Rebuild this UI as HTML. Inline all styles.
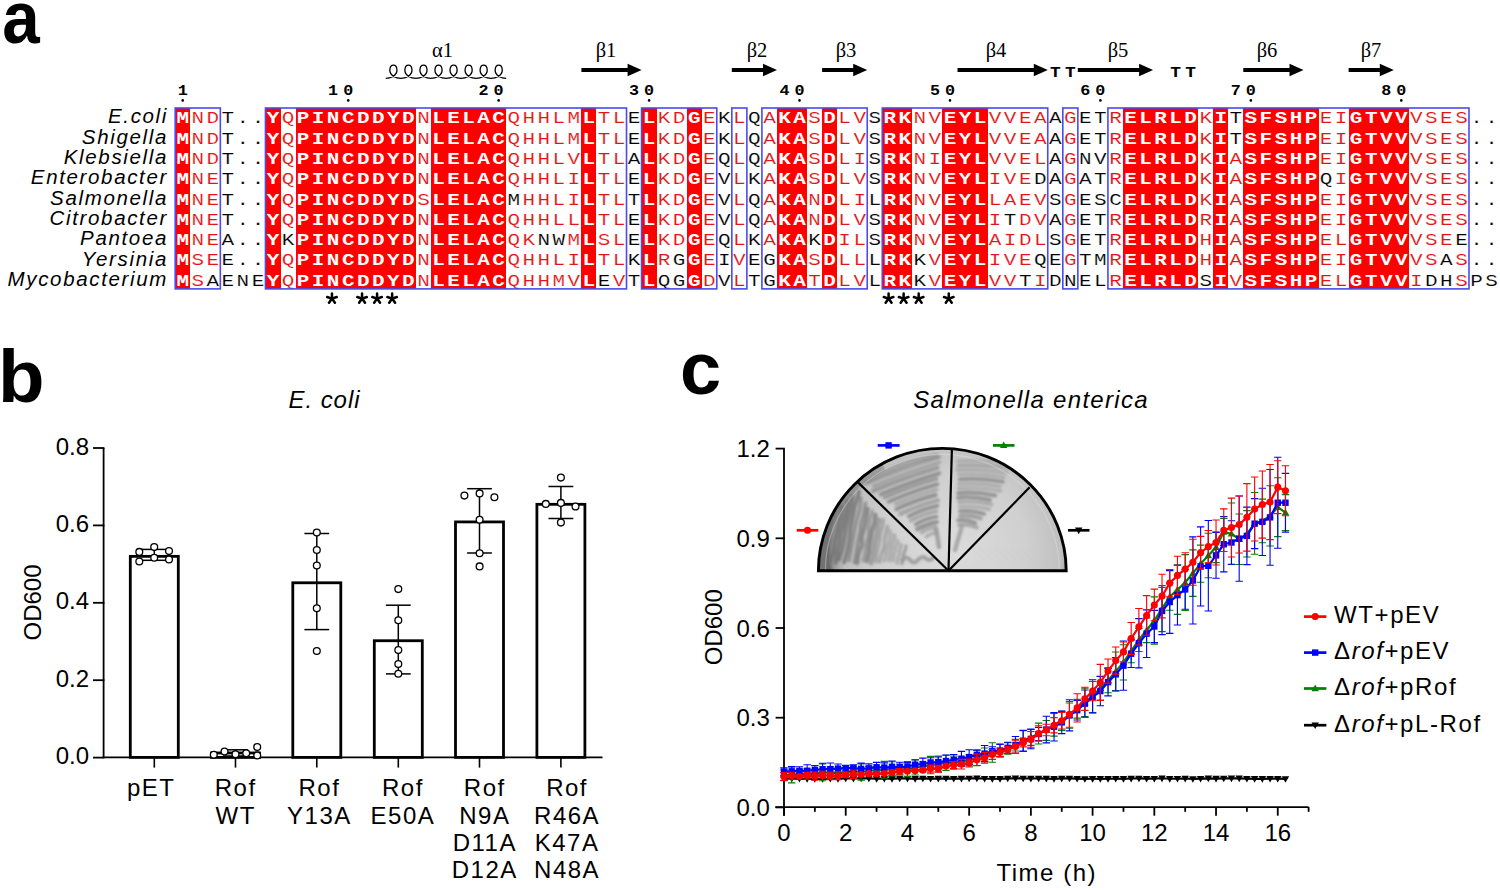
<!DOCTYPE html>
<html><head><meta charset="utf-8"><title>Figure</title><style>
html,body{margin:0;padding:0;background:#fff;overflow:hidden;width:1500px;height:890px;}
svg{display:block;}
text{font-family:"Liberation Sans",sans-serif;}
.aw{font-family:"Liberation Mono",monospace;font-weight:bold;font-size:17.2px;fill:#fff;}
.ar{font-family:"Liberation Mono",monospace;font-size:17.2px;fill:#e21414;stroke:#fff;stroke-width:0.15px;}
.ak{font-family:"Liberation Mono",monospace;font-size:17.2px;fill:#000;stroke:#fff;stroke-width:0.15px;}
.nm text{font-style:italic;font-size:20.5px;letter-spacing:1.65px;}
.num text{font-family:"Liberation Mono",monospace;font-weight:bold;font-size:15.5px;}
.ss text{font-family:"Liberation Serif",serif;font-size:20.5px;}
.tt text{font-family:"Liberation Mono",monospace;font-weight:bold;font-size:15.5px;}
.ast text{font-family:"Liberation Sans",sans-serif;font-weight:bold;font-size:26px;}
.pl{font-family:"Liberation Sans",sans-serif;font-weight:bold;font-size:74px;}
.ax text,.lab{font-size:24px;}
.it{font-style:italic;}
</style></head>
<body><svg width="1500" height="890" viewBox="0 0 1500 890">
<rect width="1500" height="890" fill="#fff"/>
<g fill="#ff0000" shape-rendering="crispEdges">
<rect x="175.20" y="108.00" width="15.04" height="180.90"/>
<rect x="265.46" y="108.00" width="15.04" height="180.90"/>
<rect x="295.55" y="108.00" width="120.35" height="180.90"/>
<rect x="430.95" y="108.00" width="75.22" height="180.90"/>
<rect x="581.39" y="108.00" width="15.04" height="180.90"/>
<rect x="641.56" y="108.00" width="15.04" height="180.90"/>
<rect x="686.70" y="108.00" width="15.04" height="180.90"/>
<rect x="776.96" y="108.00" width="30.09" height="180.90"/>
<rect x="822.09" y="108.00" width="15.04" height="180.90"/>
<rect x="882.27" y="108.00" width="30.09" height="180.90"/>
<rect x="942.44" y="108.00" width="45.13" height="180.90"/>
<rect x="1122.97" y="108.00" width="75.22" height="180.90"/>
<rect x="1213.24" y="108.00" width="15.04" height="180.90"/>
<rect x="1243.32" y="108.00" width="75.22" height="180.90"/>
<rect x="1348.63" y="108.00" width="60.18" height="180.90"/>
</g>
<g transform="scale(1.22,1)" text-anchor="middle">
<g transform="translate(0,123.30)">
<text class="aw" x="149.77 223.76 248.42 260.75 273.08 285.41 297.75 310.08 322.41 334.74 359.40 371.73 384.06 396.40 408.73 482.71 532.04 569.03 643.02 655.35 680.01 729.34 741.67 778.66 790.99 803.32 926.63 938.97 951.30 963.63 975.96 1000.62 1025.28 1037.61 1049.95 1062.28 1074.61 1111.60 1123.93 1136.26 1148.60">MYPINCDDYDLELACLLGKADRKEYLELRLDISFSHPGTVV</text>
<text class="ar" x="162.10 174.43 236.09 347.07 421.06 433.39 445.72 458.05 470.38 495.04 507.38 544.37 556.70 581.36 606.02 630.69 667.68 692.34 704.67 754.00 766.33 815.65 827.99 840.32 852.65 877.31 914.30 988.29 1086.94 1099.27 1160.93 1173.26 1185.59 1197.92">NDQNQHHLMTLKDELASLVNVVVEAGRKEIVSES</text>
<text class="ak" x="186.77 199.10 211.43 519.71 593.69 618.36 717.00 864.98 889.64 901.97 1012.95 1210.25 1222.58">T..EKQSAETT..</text>
</g>
<g transform="translate(0,143.61)">
<text class="aw" x="149.77 223.76 248.42 260.75 273.08 285.41 297.75 310.08 322.41 334.74 359.40 371.73 384.06 396.40 408.73 482.71 532.04 569.03 643.02 655.35 680.01 729.34 741.67 778.66 790.99 803.32 926.63 938.97 951.30 963.63 975.96 1000.62 1025.28 1037.61 1049.95 1062.28 1074.61 1111.60 1123.93 1136.26 1148.60">MYPINCDDYDLELACLLGKADRKEYLELRLDISFSHPGTVV</text>
<text class="ar" x="162.10 174.43 236.09 347.07 421.06 433.39 445.72 458.05 470.38 495.04 507.38 544.37 556.70 581.36 606.02 630.69 667.68 692.34 704.67 754.00 766.33 815.65 827.99 840.32 852.65 877.31 914.30 988.29 1086.94 1099.27 1160.93 1173.26 1185.59 1197.92">NDQNQHHLMTLKDELASLVNVVVEAGRKEIVSES</text>
<text class="ak" x="186.77 199.10 211.43 519.71 593.69 618.36 717.00 864.98 889.64 901.97 1012.95 1210.25 1222.58">T..EKQSAETT..</text>
</g>
<g transform="translate(0,163.92)">
<text class="aw" x="149.77 223.76 248.42 260.75 273.08 285.41 297.75 310.08 322.41 334.74 359.40 371.73 384.06 396.40 408.73 482.71 532.04 569.03 643.02 655.35 680.01 729.34 741.67 778.66 790.99 803.32 926.63 938.97 951.30 963.63 975.96 1000.62 1025.28 1037.61 1049.95 1062.28 1074.61 1111.60 1123.93 1136.26 1148.60">MYPINCDDYDLELACLLGKADRKEYLELRLDISFSHPGTVV</text>
<text class="ar" x="162.10 174.43 236.09 347.07 421.06 433.39 445.72 458.05 470.38 495.04 507.38 544.37 556.70 581.36 606.02 630.69 667.68 692.34 704.67 754.00 766.33 815.65 827.99 840.32 852.65 877.31 914.30 988.29 1012.95 1086.94 1099.27 1160.93 1173.26 1185.59 1197.92">NDQNQHHLVTLKDELASLINIVVELGRKAEIVSES</text>
<text class="ak" x="186.77 199.10 211.43 519.71 593.69 618.36 717.00 864.98 889.64 901.97 1210.25 1222.58">T..AQQSANV..</text>
</g>
<g transform="translate(0,184.23)">
<text class="aw" x="149.77 223.76 248.42 260.75 273.08 285.41 297.75 310.08 322.41 334.74 359.40 371.73 384.06 396.40 408.73 482.71 532.04 569.03 643.02 655.35 680.01 729.34 741.67 778.66 790.99 803.32 926.63 938.97 951.30 963.63 975.96 1000.62 1025.28 1037.61 1049.95 1062.28 1074.61 1111.60 1123.93 1136.26 1148.60">MYPINCDDYDLELACLLGKADRKEYLELRLDISFSHPGTVV</text>
<text class="ar" x="162.10 174.43 236.09 347.07 421.06 433.39 445.72 458.05 470.38 495.04 507.38 544.37 556.70 581.36 606.02 630.69 667.68 692.34 704.67 754.00 766.33 815.65 827.99 840.32 877.31 914.30 988.29 1012.95 1099.27 1160.93 1173.26 1185.59 1197.92">NEQNQHHLITLKDELASLVNVIVEGRKAIVSES</text>
<text class="ak" x="186.77 199.10 211.43 519.71 593.69 618.36 717.00 852.65 864.98 889.64 901.97 1086.94 1210.25 1222.58">T..EVKSDAATQ..</text>
</g>
<g transform="translate(0,204.54)">
<text class="aw" x="149.77 223.76 248.42 260.75 273.08 285.41 297.75 310.08 322.41 334.74 359.40 371.73 384.06 396.40 408.73 482.71 532.04 569.03 643.02 655.35 680.01 729.34 741.67 778.66 790.99 803.32 926.63 938.97 951.30 963.63 975.96 1000.62 1025.28 1037.61 1049.95 1062.28 1074.61 1111.60 1123.93 1136.26 1148.60">MYPINCDDYDLELACLLGKADRKEYLELRLDISFSHPGTVV</text>
<text class="ar" x="162.10 174.43 236.09 347.07 433.39 445.72 458.05 470.38 495.04 507.38 544.37 556.70 581.36 606.02 630.69 667.68 692.34 704.67 754.00 766.33 815.65 827.99 840.32 852.65 877.31 988.29 1012.95 1086.94 1099.27 1160.93 1173.26 1185.59 1197.92">NEQSHHLITLKDELANLINVLAEVGKAEIVSES</text>
<text class="ak" x="186.77 199.10 211.43 421.06 519.71 593.69 618.36 717.00 864.98 889.64 901.97 914.30 1210.25 1222.58">T..MTVQLSESC..</text>
</g>
<g transform="translate(0,224.85)">
<text class="aw" x="149.77 223.76 248.42 260.75 273.08 285.41 297.75 310.08 322.41 334.74 359.40 371.73 384.06 396.40 408.73 482.71 532.04 569.03 643.02 655.35 680.01 729.34 741.67 778.66 790.99 803.32 926.63 938.97 951.30 963.63 975.96 1000.62 1025.28 1037.61 1049.95 1062.28 1074.61 1111.60 1123.93 1136.26 1148.60">MYPINCDDYDLELACLLGKADRKEYLELRLDISFSHPGTVV</text>
<text class="ar" x="162.10 174.43 236.09 347.07 421.06 433.39 445.72 458.05 470.38 495.04 507.38 544.37 556.70 581.36 606.02 630.69 667.68 692.34 704.67 754.00 766.33 815.65 840.32 852.65 877.31 914.30 988.29 1012.95 1086.94 1099.27 1160.93 1173.26 1185.59 1197.92">NEQNQHHLLTLKDELANLVNVIDVGRRAEIVSES</text>
<text class="ak" x="186.77 199.10 211.43 519.71 593.69 618.36 717.00 827.99 864.98 889.64 901.97 1210.25 1222.58">T..EVQSTAET..</text>
</g>
<g transform="translate(0,245.16)">
<text class="aw" x="149.77 223.76 248.42 260.75 273.08 285.41 297.75 310.08 322.41 334.74 359.40 371.73 384.06 396.40 408.73 482.71 532.04 569.03 643.02 655.35 680.01 729.34 741.67 778.66 790.99 803.32 926.63 938.97 951.30 963.63 975.96 1000.62 1025.28 1037.61 1049.95 1062.28 1074.61 1111.60 1123.93 1136.26 1148.60">MYPINCDDYDLELACLLGKADRKEYLELRLDISFSHPGTVV</text>
<text class="ar" x="162.10 174.43 347.07 421.06 433.39 470.38 495.04 507.38 544.37 556.70 581.36 606.02 630.69 692.34 704.67 754.00 766.33 815.65 827.99 840.32 852.65 877.31 914.30 988.29 1012.95 1086.94 1099.27 1160.93 1173.26 1185.59">NENQKMSLKDELAILNVAIDLGRHAELVSE</text>
<text class="ak" x="186.77 199.10 211.43 236.09 445.72 458.05 519.71 593.69 618.36 667.68 717.00 864.98 889.64 901.97 1197.92 1210.25 1222.58">A..KNWEQKKSSETE..</text>
</g>
<g transform="translate(0,265.47)">
<text class="aw" x="149.77 223.76 248.42 260.75 273.08 285.41 297.75 310.08 322.41 334.74 359.40 371.73 384.06 396.40 408.73 482.71 532.04 569.03 643.02 655.35 680.01 729.34 741.67 778.66 790.99 803.32 926.63 938.97 951.30 963.63 975.96 1000.62 1025.28 1037.61 1049.95 1062.28 1074.61 1111.60 1123.93 1136.26 1148.60">MYPINCDDYDLELACLLGKADRKEYLELRLDISFSHPGTVV</text>
<text class="ar" x="162.10 174.43 236.09 347.07 421.06 433.39 445.72 458.05 470.38 495.04 507.38 544.37 581.36 606.02 667.68 692.34 704.67 766.33 815.65 827.99 840.32 877.31 914.30 988.29 1012.95 1086.94 1099.27 1160.93 1173.26 1197.92">SEQNQHHLITLREVSLLVIVEGRHAEIVSS</text>
<text class="ak" x="186.77 199.10 211.43 519.71 556.70 593.69 618.36 630.69 717.00 754.00 852.65 864.98 889.64 901.97 1185.59 1210.25 1222.58">E..KGIEGLKQETMA..</text>
</g>
<g transform="translate(0,285.78)">
<text class="aw" x="149.77 223.76 248.42 260.75 273.08 285.41 297.75 310.08 322.41 334.74 359.40 371.73 384.06 396.40 408.73 482.71 532.04 569.03 643.02 655.35 680.01 729.34 741.67 778.66 790.99 803.32 926.63 938.97 951.30 963.63 975.96 1000.62 1025.28 1037.61 1049.95 1062.28 1074.61 1111.60 1123.93 1136.26 1148.60">MYPINCDDYDLELACLLGKADRKEYLELRLDISFSHPGTVV</text>
<text class="ar" x="162.10 236.09 347.07 421.06 433.39 445.72 458.05 470.38 507.38 581.36 606.02 667.68 692.34 704.67 766.33 815.65 827.99 852.65 914.30 1012.95 1086.94 1099.27 1160.93 1197.92">SQNQHHMVVDLTLVVVVIRVELIS</text>
<text class="ak" x="174.43 186.77 199.10 211.43 495.04 519.71 544.37 556.70 593.69 618.36 630.69 717.00 754.00 840.32 864.98 877.31 889.64 901.97 988.29 1173.26 1185.59 1210.25 1222.58">AENEETQGVTGLKTDNELSDHPS</text>
</g>
</g>
<g fill="none" stroke="#4a4af0" stroke-width="1.6">
<rect x="175.20" y="108.00" width="45.13" height="180.90"/>
<rect x="265.46" y="108.00" width="361.06" height="180.90"/>
<rect x="641.56" y="108.00" width="75.22" height="180.90"/>
<rect x="731.83" y="108.00" width="15.04" height="180.90"/>
<rect x="761.92" y="108.00" width="105.31" height="180.90"/>
<rect x="882.27" y="108.00" width="165.48" height="180.90"/>
<rect x="1062.80" y="108.00" width="15.04" height="180.90"/>
<rect x="1107.93" y="108.00" width="361.06" height="180.90"/>
</g>
<g class="nm" text-anchor="end">
<text x="168" y="123.40">E.coli</text>
<text x="168" y="143.71">Shigella</text>
<text x="168" y="164.02">Klebsiella</text>
<text x="168" y="184.33">Enterobacter</text>
<text x="168" y="204.64">Salmonella</text>
<text x="168" y="224.95">Citrobacter</text>
<text x="168" y="245.26">Pantoea</text>
<text x="168" y="265.57">Yersinia</text>
<text x="168" y="285.88">Mycobacterium</text>
</g>
<g class="num">
<text x="169.19" y="94.6" text-anchor="middle" transform="scale(1.08,1)">1</text>
<circle cx="182.72" cy="100.4" r="1.3" fill="#000"/>
<text x="322.41" y="94.6" text-anchor="middle" transform="scale(1.08,1)">0</text>
<text x="308.48" y="94.6" text-anchor="middle" transform="scale(1.08,1)">1</text>
<circle cx="348.21" cy="100.4" r="1.3" fill="#000"/>
<text x="461.71" y="94.6" text-anchor="middle" transform="scale(1.08,1)">0</text>
<text x="447.78" y="94.6" text-anchor="middle" transform="scale(1.08,1)">2</text>
<circle cx="498.65" cy="100.4" r="1.3" fill="#000"/>
<text x="601.01" y="94.6" text-anchor="middle" transform="scale(1.08,1)">0</text>
<text x="587.08" y="94.6" text-anchor="middle" transform="scale(1.08,1)">3</text>
<circle cx="649.09" cy="100.4" r="1.3" fill="#000"/>
<text x="740.30" y="94.6" text-anchor="middle" transform="scale(1.08,1)">0</text>
<text x="726.37" y="94.6" text-anchor="middle" transform="scale(1.08,1)">4</text>
<circle cx="799.53" cy="100.4" r="1.3" fill="#000"/>
<text x="879.60" y="94.6" text-anchor="middle" transform="scale(1.08,1)">0</text>
<text x="865.67" y="94.6" text-anchor="middle" transform="scale(1.08,1)">5</text>
<circle cx="949.97" cy="100.4" r="1.3" fill="#000"/>
<text x="1018.89" y="94.6" text-anchor="middle" transform="scale(1.08,1)">0</text>
<text x="1004.96" y="94.6" text-anchor="middle" transform="scale(1.08,1)">6</text>
<circle cx="1100.41" cy="100.4" r="1.3" fill="#000"/>
<text x="1158.19" y="94.6" text-anchor="middle" transform="scale(1.08,1)">0</text>
<text x="1144.26" y="94.6" text-anchor="middle" transform="scale(1.08,1)">7</text>
<circle cx="1250.85" cy="100.4" r="1.3" fill="#000"/>
<text x="1297.49" y="94.6" text-anchor="middle" transform="scale(1.08,1)">0</text>
<text x="1283.56" y="94.6" text-anchor="middle" transform="scale(1.08,1)">8</text>
<circle cx="1401.29" cy="100.4" r="1.3" fill="#000"/>
</g>
<path d="M581.4,67.9 L627.6,67.9 L627.6,63.8 L641.6,70.0 L627.6,76.2 L627.6,72.1 L581.4,72.1 Z" fill="#000"/>
<path d="M731.8,67.9 L763.0,67.9 L763.0,63.8 L777.0,70.0 L763.0,76.2 L763.0,72.1 L731.8,72.1 Z" fill="#000"/>
<path d="M822.1,67.9 L853.2,67.9 L853.2,63.8 L867.2,70.0 L853.2,76.2 L853.2,72.1 L822.1,72.1 Z" fill="#000"/>
<path d="M957.5,67.9 L1033.8,67.9 L1033.8,63.8 L1047.8,70.0 L1033.8,76.2 L1033.8,72.1 L957.5,72.1 Z" fill="#000"/>
<path d="M1077.8,67.9 L1139.1,67.9 L1139.1,63.8 L1153.1,70.0 L1139.1,76.2 L1139.1,72.1 L1077.8,72.1 Z" fill="#000"/>
<path d="M1243.3,67.9 L1289.5,67.9 L1289.5,63.8 L1303.5,70.0 L1289.5,76.2 L1289.5,72.1 L1243.3,72.1 Z" fill="#000"/>
<path d="M1348.6,67.9 L1379.8,67.9 L1379.8,63.8 L1393.8,70.0 L1379.8,76.2 L1379.8,72.1 L1348.6,72.1 Z" fill="#000"/>
<path d="M385.82,78.4 C389.84,78.4 397.34,75.8 396.94,69.8 C396.64,63.6 390.24,63.6 389.84,69.8 C389.44,75.8 396.84,78.4 400.86,78.4 C404.88,78.4 412.38,75.8 411.98,69.8 C411.68,63.6 405.28,63.6 404.88,69.8 C404.48,75.8 411.88,78.4 415.90,78.4 C419.93,78.4 427.43,75.8 427.03,69.8 C426.73,63.6 420.33,63.6 419.93,69.8 C419.53,75.8 426.93,78.4 430.95,78.4 C434.97,78.4 442.47,75.8 442.07,69.8 C441.77,63.6 435.37,63.6 434.97,69.8 C434.57,75.8 441.97,78.4 445.99,78.4 C450.01,78.4 457.51,75.8 457.11,69.8 C456.81,63.6 450.41,63.6 450.01,69.8 C449.61,75.8 457.01,78.4 461.03,78.4 C465.06,78.4 472.56,75.8 472.16,69.8 C471.86,63.6 465.46,63.6 465.06,69.8 C464.66,75.8 472.06,78.4 476.08,78.4 C480.10,78.4 487.60,75.8 487.20,69.8 C486.90,63.6 480.50,63.6 480.10,69.8 C479.70,75.8 487.10,78.4 491.12,78.4 C495.15,78.4 502.65,75.8 502.25,69.8 C501.95,63.6 495.55,63.6 495.15,69.8 C494.75,75.8 502.15,78.4 506.17,78.4" fill="none" stroke="#000" stroke-width="1.3"/>
<g class="ss" text-anchor="middle">
<text x="442.5" y="57.1">α1</text>
<text x="606" y="57.1">β1</text>
<text x="757" y="57.1">β2</text>
<text x="846" y="57.1">β3</text>
<text x="996" y="57.1">β4</text>
<text x="1118" y="57.1">β5</text>
<text x="1267" y="57.1">β6</text>
<text x="1371" y="57.1">β7</text>
</g>
<g class="tt" text-anchor="middle">
<text x="917.63" y="77" transform="scale(1.15,1)">T</text>
<text x="930.71" y="77" transform="scale(1.15,1)">T</text>
<text x="1022.28" y="77" transform="scale(1.15,1)">T</text>
<text x="1035.37" y="77" transform="scale(1.15,1)">T</text>
</g>
<path d="M331.96,298.60l0.00,-5.00M331.96,298.60l4.76,-1.55M331.96,298.60l2.94,4.05M331.96,298.60l-2.94,4.05M331.96,298.60l-4.76,-1.55M362.05,298.60l0.00,-5.00M362.05,298.60l4.76,-1.55M362.05,298.60l2.94,4.05M362.05,298.60l-2.94,4.05M362.05,298.60l-4.76,-1.55M377.09,298.60l0.00,-5.00M377.09,298.60l4.76,-1.55M377.09,298.60l2.94,4.05M377.09,298.60l-2.94,4.05M377.09,298.60l-4.76,-1.55M392.14,298.60l0.00,-5.00M392.14,298.60l4.76,-1.55M392.14,298.60l2.94,4.05M392.14,298.60l-2.94,4.05M392.14,298.60l-4.76,-1.55M888.59,298.60l0.00,-5.00M888.59,298.60l4.76,-1.55M888.59,298.60l2.94,4.05M888.59,298.60l-2.94,4.05M888.59,298.60l-4.76,-1.55M903.63,298.60l0.00,-5.00M903.63,298.60l4.76,-1.55M903.63,298.60l2.94,4.05M903.63,298.60l-2.94,4.05M903.63,298.60l-4.76,-1.55M918.68,298.60l0.00,-5.00M918.68,298.60l4.76,-1.55M918.68,298.60l2.94,4.05M918.68,298.60l-2.94,4.05M918.68,298.60l-4.76,-1.55M948.77,298.60l0.00,-5.00M948.77,298.60l4.76,-1.55M948.77,298.60l2.94,4.05M948.77,298.60l-2.94,4.05M948.77,298.60l-4.76,-1.55" stroke="#000" stroke-width="2.5" stroke-linecap="round" fill="none"/>
<text class="pl" x="0" y="42.5" transform="translate(2.2,0) scale(0.91,1)">a</text>
<text class="pl" x="-2" y="401.8" transform="scale(1.03,1)">b</text>
<text class="pl" x="680" y="393.5">c</text>
<g class="ax">
<line x1="103.6" y1="448.00" x2="103.6" y2="757.6" stroke="#000" stroke-width="1.8"/>
<line x1="102.7" y1="757.4" x2="602.5" y2="757.4" stroke="#000" stroke-width="1.8"/>
<line x1="93" y1="757.60" x2="104.4" y2="757.60" stroke="#000" stroke-width="1.8"/>
<text x="89" y="764.20" text-anchor="end">0.0</text>
<line x1="93" y1="680.20" x2="104.4" y2="680.20" stroke="#000" stroke-width="1.8"/>
<text x="89" y="686.80" text-anchor="end">0.2</text>
<line x1="93" y1="602.80" x2="104.4" y2="602.80" stroke="#000" stroke-width="1.8"/>
<text x="89" y="609.40" text-anchor="end">0.4</text>
<line x1="93" y1="525.40" x2="104.4" y2="525.40" stroke="#000" stroke-width="1.8"/>
<text x="89" y="532.00" text-anchor="end">0.6</text>
<line x1="93" y1="448.00" x2="104.4" y2="448.00" stroke="#000" stroke-width="1.8"/>
<text x="89" y="454.60" text-anchor="end">0.8</text>
</g>
<text class="lab" transform="translate(41.4,602.5) rotate(-90)" text-anchor="middle">OD600</text>
<text class="lab it" x="324" y="407.8" text-anchor="middle" textLength="71" lengthAdjust="spacing">E. coli</text>
<rect x="130.30" y="556.36" width="48.0" height="201.04" fill="#fff" stroke="#000" stroke-width="2.8"/>
<rect x="211.50" y="752.96" width="48.0" height="4.44" fill="#fff" stroke="#000" stroke-width="2.8"/>
<rect x="292.80" y="582.79" width="48.0" height="174.61" fill="#fff" stroke="#000" stroke-width="2.8"/>
<rect x="374.30" y="640.73" width="48.0" height="116.67" fill="#fff" stroke="#000" stroke-width="2.8"/>
<rect x="455.50" y="521.92" width="48.0" height="235.48" fill="#fff" stroke="#000" stroke-width="2.8"/>
<rect x="536.90" y="504.31" width="48.0" height="253.09" fill="#fff" stroke="#000" stroke-width="2.8"/>
<g stroke="#000" stroke-width="1.5"><line x1="154.30" y1="549.40" x2="154.30" y2="560.30"/><line x1="141.90" y1="549.40" x2="166.70" y2="549.40"/><line x1="141.90" y1="560.30" x2="166.70" y2="560.30"/></g>
<g fill="#fff" stroke="#000" stroke-width="1.3">
<circle cx="139.30" cy="551.90" r="3.4"/>
<circle cx="139.30" cy="561.50" r="3.4"/>
<circle cx="154.20" cy="547.10" r="3.4"/>
<circle cx="154.20" cy="557.80" r="3.4"/>
<circle cx="169.00" cy="551.10" r="3.4"/>
<circle cx="169.00" cy="559.50" r="3.4"/>
</g>
<g stroke="#000" stroke-width="1.5"><line x1="235.50" y1="749.80" x2="235.50" y2="756.00"/><line x1="223.10" y1="749.80" x2="247.90" y2="749.80"/><line x1="223.10" y1="756.00" x2="247.90" y2="756.00"/></g>
<g fill="#fff" stroke="#000" stroke-width="1.3">
<circle cx="213.80" cy="754.70" r="3.4"/>
<circle cx="224.50" cy="751.50" r="3.4"/>
<circle cx="235.50" cy="754.30" r="3.4"/>
<circle cx="246.20" cy="753.30" r="3.4"/>
<circle cx="257.20" cy="747.00" r="3.4"/>
<circle cx="257.20" cy="755.40" r="3.4"/>
</g>
<g stroke="#000" stroke-width="1.5"><line x1="316.80" y1="533.50" x2="316.80" y2="629.60"/><line x1="304.40" y1="533.50" x2="329.20" y2="533.50"/><line x1="304.40" y1="629.60" x2="329.20" y2="629.60"/></g>
<g fill="#fff" stroke="#000" stroke-width="1.3">
<circle cx="316.80" cy="532.60" r="3.4"/>
<circle cx="316.80" cy="550.00" r="3.4"/>
<circle cx="316.80" cy="565.50" r="3.4"/>
<circle cx="316.80" cy="608.20" r="3.4"/>
<circle cx="316.80" cy="651.00" r="3.4"/>
</g>
<g stroke="#000" stroke-width="1.5"><line x1="398.30" y1="605.20" x2="398.30" y2="673.90"/><line x1="385.90" y1="605.20" x2="410.70" y2="605.20"/><line x1="385.90" y1="673.90" x2="410.70" y2="673.90"/></g>
<g fill="#fff" stroke="#000" stroke-width="1.3">
<circle cx="398.30" cy="589.10" r="3.4"/>
<circle cx="398.30" cy="620.30" r="3.4"/>
<circle cx="398.30" cy="650.10" r="3.4"/>
<circle cx="398.30" cy="664.00" r="3.4"/>
<circle cx="398.30" cy="673.80" r="3.4"/>
</g>
<g stroke="#000" stroke-width="1.5"><line x1="479.50" y1="488.70" x2="479.50" y2="553.00"/><line x1="467.10" y1="488.70" x2="491.90" y2="488.70"/><line x1="467.10" y1="553.00" x2="491.90" y2="553.00"/></g>
<g fill="#fff" stroke="#000" stroke-width="1.3">
<circle cx="464.40" cy="495.60" r="3.4"/>
<circle cx="479.60" cy="493.40" r="3.4"/>
<circle cx="494.40" cy="497.30" r="3.4"/>
<circle cx="479.60" cy="519.70" r="3.4"/>
<circle cx="479.60" cy="553.30" r="3.4"/>
<circle cx="479.60" cy="566.40" r="3.4"/>
</g>
<g stroke="#000" stroke-width="1.5"><line x1="560.90" y1="486.50" x2="560.90" y2="518.50"/><line x1="548.50" y1="486.50" x2="573.30" y2="486.50"/><line x1="548.50" y1="518.50" x2="573.30" y2="518.50"/></g>
<g fill="#fff" stroke="#000" stroke-width="1.3">
<circle cx="560.90" cy="477.60" r="3.4"/>
<circle cx="545.80" cy="503.90" r="3.4"/>
<circle cx="560.90" cy="502.90" r="3.4"/>
<circle cx="575.50" cy="506.50" r="3.4"/>
<circle cx="560.90" cy="522.60" r="3.4"/>
</g>
<g stroke="#000" stroke-width="1.6">
<line x1="154.30" y1="757.4" x2="154.30" y2="767.6"/>
<line x1="235.50" y1="757.4" x2="235.50" y2="767.6"/>
<line x1="316.80" y1="757.4" x2="316.80" y2="767.6"/>
<line x1="398.30" y1="757.4" x2="398.30" y2="767.6"/>
<line x1="479.50" y1="757.4" x2="479.50" y2="767.6"/>
<line x1="560.90" y1="757.4" x2="560.90" y2="767.6"/>
</g>
<g class="lab" text-anchor="middle" letter-spacing="1.5">
<text x="151.2" y="796.3">pET</text>
<text x="235.7" y="796.3">Rof</text>
<text x="235.7" y="823.6">WT</text>
<text x="319.4" y="796.3">Rof</text>
<text x="319.4" y="823.6">Y13A</text>
<text x="402.9" y="796.3">Rof</text>
<text x="402.9" y="823.6">E50A</text>
<text x="484.8" y="796.3">Rof</text>
<text x="484.8" y="823.6">N9A</text>
<text x="484.8" y="850.9">D11A</text>
<text x="484.8" y="878.2">D12A</text>
<text x="567.1" y="796.3">Rof</text>
<text x="567.1" y="823.6">R46A</text>
<text x="567.1" y="850.9">K47A</text>
<text x="567.1" y="878.2">N48A</text>
</g>
<g class="ax">
<line x1="784" y1="448.60" x2="784" y2="815.7" stroke="#000" stroke-width="1.8"/>
<line x1="775.3" y1="807.2" x2="1308.62" y2="807.2" stroke="#000" stroke-width="1.8"/>
<line x1="775.6" y1="807.40" x2="784.8" y2="807.40" stroke="#000" stroke-width="1.8"/>
<text x="769.8" y="816.00" text-anchor="end">0.0</text>
<line x1="775.6" y1="717.70" x2="784.8" y2="717.70" stroke="#000" stroke-width="1.8"/>
<text x="769.8" y="726.30" text-anchor="end">0.3</text>
<line x1="775.6" y1="628.00" x2="784.8" y2="628.00" stroke="#000" stroke-width="1.8"/>
<text x="769.8" y="636.60" text-anchor="end">0.6</text>
<line x1="775.6" y1="538.30" x2="784.8" y2="538.30" stroke="#000" stroke-width="1.8"/>
<text x="769.8" y="546.90" text-anchor="end">0.9</text>
<line x1="775.6" y1="448.60" x2="784.8" y2="448.60" stroke="#000" stroke-width="1.8"/>
<text x="769.8" y="457.20" text-anchor="end">1.2</text>
<line x1="784.00" y1="807" x2="784.00" y2="815.70" stroke="#000" stroke-width="1.8"/>
<text x="784.00" y="841" text-anchor="middle">0</text>
<line x1="814.86" y1="807" x2="814.86" y2="811.80" stroke="#000" stroke-width="1.8"/>
<line x1="845.72" y1="807" x2="845.72" y2="815.70" stroke="#000" stroke-width="1.8"/>
<text x="845.72" y="841" text-anchor="middle">2</text>
<line x1="876.58" y1="807" x2="876.58" y2="811.80" stroke="#000" stroke-width="1.8"/>
<line x1="907.44" y1="807" x2="907.44" y2="815.70" stroke="#000" stroke-width="1.8"/>
<text x="907.44" y="841" text-anchor="middle">4</text>
<line x1="938.30" y1="807" x2="938.30" y2="811.80" stroke="#000" stroke-width="1.8"/>
<line x1="969.16" y1="807" x2="969.16" y2="815.70" stroke="#000" stroke-width="1.8"/>
<text x="969.16" y="841" text-anchor="middle">6</text>
<line x1="1000.02" y1="807" x2="1000.02" y2="811.80" stroke="#000" stroke-width="1.8"/>
<line x1="1030.88" y1="807" x2="1030.88" y2="815.70" stroke="#000" stroke-width="1.8"/>
<text x="1030.88" y="841" text-anchor="middle">8</text>
<line x1="1061.74" y1="807" x2="1061.74" y2="811.80" stroke="#000" stroke-width="1.8"/>
<line x1="1092.60" y1="807" x2="1092.60" y2="815.70" stroke="#000" stroke-width="1.8"/>
<text x="1092.60" y="841" text-anchor="middle">10</text>
<line x1="1123.46" y1="807" x2="1123.46" y2="811.80" stroke="#000" stroke-width="1.8"/>
<line x1="1154.32" y1="807" x2="1154.32" y2="815.70" stroke="#000" stroke-width="1.8"/>
<text x="1154.32" y="841" text-anchor="middle">12</text>
<line x1="1185.18" y1="807" x2="1185.18" y2="811.80" stroke="#000" stroke-width="1.8"/>
<line x1="1216.04" y1="807" x2="1216.04" y2="815.70" stroke="#000" stroke-width="1.8"/>
<text x="1216.04" y="841" text-anchor="middle">14</text>
<line x1="1246.90" y1="807" x2="1246.90" y2="811.80" stroke="#000" stroke-width="1.8"/>
<line x1="1277.76" y1="807" x2="1277.76" y2="815.70" stroke="#000" stroke-width="1.8"/>
<text x="1277.76" y="841" text-anchor="middle">16</text>
<line x1="1308.62" y1="807" x2="1308.62" y2="811.80" stroke="#000" stroke-width="1.8"/>
</g>
<text class="lab" transform="translate(722.2,627.3) rotate(-90)" text-anchor="middle">OD600</text>
<text class="lab" x="1046" y="881.2" text-anchor="middle" textLength="99" lengthAdjust="spacing">Time (h)</text>
<text class="lab it" x="1030.4" y="407.7" text-anchor="middle" textLength="234.5" lengthAdjust="spacing">Salmonella enterica</text>
<g stroke="#000" stroke-width="1.1" fill="none">
<path d="M784.00,778.65 L791.72,778.46 L799.43,778.53 L807.14,778.81 L814.86,778.82 L822.58,778.80 L830.29,778.59 L838.00,778.77 L845.72,778.47 L853.43,778.50 L861.15,778.26 L868.87,778.33 L876.58,778.76 L884.29,778.66 L892.01,778.74 L899.73,778.46 L907.44,778.52 L915.15,778.81 L922.87,778.44 L930.59,778.66 L938.30,778.57 L946.01,778.37 L953.73,778.70 L961.44,778.53 L969.16,778.41 L976.88,778.26 L984.59,778.60 L992.31,778.75 L1000.02,778.82 L1007.74,778.39 L1015.45,778.32 L1023.16,778.43 L1030.88,778.50 L1038.60,778.34 L1046.31,778.56 L1054.03,778.81 L1061.74,778.46 L1069.45,778.35 L1077.17,778.61 L1084.88,778.83 L1092.60,778.75 L1100.32,778.81 L1108.03,778.77 L1115.74,778.61 L1123.46,778.80 L1131.17,778.52 L1138.89,778.36 L1146.61,778.68 L1154.32,778.63 L1162.03,778.27 L1169.75,778.74 L1177.46,778.71 L1185.18,778.49 L1192.89,778.84 L1200.61,778.62 L1208.33,778.28 L1216.04,778.54 L1223.76,778.44 L1231.47,778.31 L1239.18,778.32 L1246.90,778.61 L1254.62,778.78 L1262.33,778.81 L1270.05,778.72 L1277.76,778.64 L1285.47,778.85" stroke-width="2.2"/>
</g>
<g><path d="M784.00,782.55 L787.70,775.95 L780.30,775.95Z" fill="#000"/><path d="M791.72,782.36 L795.42,775.76 L788.01,775.76Z" fill="#000"/><path d="M799.43,782.43 L803.13,775.83 L795.73,775.83Z" fill="#000"/><path d="M807.14,782.71 L810.85,776.11 L803.44,776.11Z" fill="#000"/><path d="M814.86,782.72 L818.56,776.12 L811.16,776.12Z" fill="#000"/><path d="M822.58,782.70 L826.28,776.10 L818.88,776.10Z" fill="#000"/><path d="M830.29,782.49 L833.99,775.89 L826.59,775.89Z" fill="#000"/><path d="M838.00,782.67 L841.71,776.07 L834.30,776.07Z" fill="#000"/><path d="M845.72,782.37 L849.42,775.77 L842.02,775.77Z" fill="#000"/><path d="M853.43,782.40 L857.13,775.80 L849.73,775.80Z" fill="#000"/><path d="M861.15,782.16 L864.85,775.56 L857.45,775.56Z" fill="#000"/><path d="M868.87,782.23 L872.57,775.63 L865.16,775.63Z" fill="#000"/><path d="M876.58,782.66 L880.28,776.06 L872.88,776.06Z" fill="#000"/><path d="M884.29,782.56 L888.00,775.96 L880.59,775.96Z" fill="#000"/><path d="M892.01,782.64 L895.71,776.04 L888.31,776.04Z" fill="#000"/><path d="M899.73,782.36 L903.43,775.76 L896.02,775.76Z" fill="#000"/><path d="M907.44,782.42 L911.14,775.82 L903.74,775.82Z" fill="#000"/><path d="M915.15,782.71 L918.86,776.11 L911.45,776.11Z" fill="#000"/><path d="M922.87,782.34 L926.57,775.74 L919.17,775.74Z" fill="#000"/><path d="M930.59,782.56 L934.29,775.96 L926.88,775.96Z" fill="#000"/><path d="M938.30,782.47 L942.00,775.87 L934.60,775.87Z" fill="#000"/><path d="M946.01,782.27 L949.72,775.67 L942.31,775.67Z" fill="#000"/><path d="M953.73,782.60 L957.43,776.00 L950.03,776.00Z" fill="#000"/><path d="M961.44,782.43 L965.14,775.83 L957.74,775.83Z" fill="#000"/><path d="M969.16,782.31 L972.86,775.71 L965.46,775.71Z" fill="#000"/><path d="M976.88,782.16 L980.58,775.56 L973.17,775.56Z" fill="#000"/><path d="M984.59,782.50 L988.29,775.90 L980.89,775.90Z" fill="#000"/><path d="M992.31,782.65 L996.01,776.05 L988.61,776.05Z" fill="#000"/><path d="M1000.02,782.72 L1003.72,776.12 L996.32,776.12Z" fill="#000"/><path d="M1007.74,782.29 L1011.44,775.69 L1004.03,775.69Z" fill="#000"/><path d="M1015.45,782.22 L1019.15,775.62 L1011.75,775.62Z" fill="#000"/><path d="M1023.16,782.33 L1026.87,775.73 L1019.46,775.73Z" fill="#000"/><path d="M1030.88,782.40 L1034.58,775.80 L1027.18,775.80Z" fill="#000"/><path d="M1038.60,782.24 L1042.30,775.64 L1034.89,775.64Z" fill="#000"/><path d="M1046.31,782.46 L1050.01,775.86 L1042.61,775.86Z" fill="#000"/><path d="M1054.03,782.71 L1057.73,776.11 L1050.33,776.11Z" fill="#000"/><path d="M1061.74,782.36 L1065.44,775.76 L1058.04,775.76Z" fill="#000"/><path d="M1069.45,782.25 L1073.15,775.65 L1065.75,775.65Z" fill="#000"/><path d="M1077.17,782.51 L1080.87,775.91 L1073.47,775.91Z" fill="#000"/><path d="M1084.88,782.73 L1088.59,776.13 L1081.18,776.13Z" fill="#000"/><path d="M1092.60,782.65 L1096.30,776.05 L1088.90,776.05Z" fill="#000"/><path d="M1100.32,782.71 L1104.02,776.11 L1096.62,776.11Z" fill="#000"/><path d="M1108.03,782.67 L1111.73,776.07 L1104.33,776.07Z" fill="#000"/><path d="M1115.74,782.51 L1119.44,775.91 L1112.04,775.91Z" fill="#000"/><path d="M1123.46,782.70 L1127.16,776.10 L1119.76,776.10Z" fill="#000"/><path d="M1131.17,782.42 L1134.88,775.82 L1127.47,775.82Z" fill="#000"/><path d="M1138.89,782.26 L1142.59,775.66 L1135.19,775.66Z" fill="#000"/><path d="M1146.61,782.58 L1150.31,775.98 L1142.90,775.98Z" fill="#000"/><path d="M1154.32,782.53 L1158.02,775.93 L1150.62,775.93Z" fill="#000"/><path d="M1162.03,782.17 L1165.73,775.57 L1158.33,775.57Z" fill="#000"/><path d="M1169.75,782.64 L1173.45,776.04 L1166.05,776.04Z" fill="#000"/><path d="M1177.46,782.61 L1181.16,776.01 L1173.76,776.01Z" fill="#000"/><path d="M1185.18,782.39 L1188.88,775.79 L1181.48,775.79Z" fill="#000"/><path d="M1192.89,782.74 L1196.60,776.14 L1189.19,776.14Z" fill="#000"/><path d="M1200.61,782.52 L1204.31,775.92 L1196.91,775.92Z" fill="#000"/><path d="M1208.33,782.18 L1212.03,775.58 L1204.62,775.58Z" fill="#000"/><path d="M1216.04,782.44 L1219.74,775.84 L1212.34,775.84Z" fill="#000"/><path d="M1223.76,782.34 L1227.46,775.74 L1220.06,775.74Z" fill="#000"/><path d="M1231.47,782.21 L1235.17,775.61 L1227.77,775.61Z" fill="#000"/><path d="M1239.18,782.22 L1242.88,775.62 L1235.48,775.62Z" fill="#000"/><path d="M1246.90,782.51 L1250.60,775.91 L1243.20,775.91Z" fill="#000"/><path d="M1254.62,782.68 L1258.32,776.08 L1250.91,776.08Z" fill="#000"/><path d="M1262.33,782.71 L1266.03,776.11 L1258.63,776.11Z" fill="#000"/><path d="M1270.05,782.62 L1273.75,776.02 L1266.35,776.02Z" fill="#000"/><path d="M1277.76,782.54 L1281.46,775.94 L1274.06,775.94Z" fill="#000"/><path d="M1285.47,782.75 L1289.17,776.15 L1281.77,776.15Z" fill="#000"/></g>
<g stroke="#008000" stroke-width="1.1" fill="none">
<path d="M784.00,769.89V780.56M780.30,769.89h7.4M780.30,780.56h7.4M791.72,767.27V782.85M788.01,767.27h7.4M788.01,782.85h7.4M799.43,769.40V778.02M795.73,769.40h7.4M795.73,778.02h7.4M807.14,768.79V779.32M803.44,768.79h7.4M803.44,779.32h7.4M814.86,769.37V777.75M811.16,769.37h7.4M811.16,777.75h7.4M822.58,764.01V780.77M818.88,764.01h7.4M818.88,780.77h7.4M830.29,766.84V778.71M826.59,766.84h7.4M826.59,778.71h7.4M838.00,769.06V777.26M834.30,769.06h7.4M834.30,777.26h7.4M845.72,767.51V777.29M842.02,767.51h7.4M842.02,777.29h7.4M853.43,766.68V775.48M849.73,766.68h7.4M849.73,775.48h7.4M861.15,763.85V780.30M857.45,763.85h7.4M857.45,780.30h7.4M868.87,766.38V775.06M865.16,766.38h7.4M865.16,775.06h7.4M876.58,766.48V774.02M872.88,766.48h7.4M872.88,774.02h7.4M884.29,761.42V778.23M880.59,761.42h7.4M880.59,778.23h7.4M892.01,761.72V775.83M888.31,761.72h7.4M888.31,775.83h7.4M899.73,763.94V774.88M896.02,763.94h7.4M896.02,774.88h7.4M907.44,761.64V776.61M903.74,761.64h7.4M903.74,776.61h7.4M915.15,759.94V775.06M911.45,759.94h7.4M911.45,775.06h7.4M922.87,762.06V771.73M919.17,762.06h7.4M919.17,771.73h7.4M930.59,756.38V773.74M926.88,756.38h7.4M926.88,773.74h7.4M938.30,756.16V771.86M934.60,756.16h7.4M934.60,771.86h7.4M946.01,755.22V770.38M942.31,755.22h7.4M942.31,770.38h7.4M953.73,756.07V769.11M950.03,756.07h7.4M950.03,769.11h7.4M961.44,757.04V765.14M957.74,757.04h7.4M957.74,765.14h7.4M969.16,754.97V765.84M965.46,754.97h7.4M965.46,765.84h7.4M976.88,750.16V765.64M973.17,750.16h7.4M973.17,765.64h7.4M984.59,748.01V761.10M980.89,748.01h7.4M980.89,761.10h7.4M992.31,742.80V762.20M988.61,742.80h7.4M988.61,762.20h7.4M1000.02,744.00V756.74M996.32,744.00h7.4M996.32,756.74h7.4M1007.74,742.66V754.14M1004.03,742.66h7.4M1004.03,754.14h7.4M1015.45,739.38V750.93M1011.75,739.38h7.4M1011.75,750.93h7.4M1023.16,730.77V751.43M1019.46,730.77h7.4M1019.46,751.43h7.4M1030.88,729.44V745.41M1027.18,729.44h7.4M1027.18,745.41h7.4M1038.60,723.09V744.05M1034.89,723.09h7.4M1034.89,744.05h7.4M1046.31,720.44V740.37M1042.61,720.44h7.4M1042.61,740.37h7.4M1054.03,713.40V736.08M1050.33,713.40h7.4M1050.33,736.08h7.4M1061.74,711.29V730.39M1058.04,711.29h7.4M1058.04,730.39h7.4M1069.45,702.98V728.19M1065.75,702.98h7.4M1065.75,728.19h7.4M1077.17,699.37V718.09M1073.47,699.37h7.4M1073.47,718.09h7.4M1084.88,688.29V716.61M1081.18,688.29h7.4M1081.18,716.61h7.4M1092.60,679.55V712.79M1088.90,679.55h7.4M1088.90,712.79h7.4M1100.32,676.56V699.94M1096.62,676.56h7.4M1096.62,699.94h7.4M1108.03,667.92V692.73M1104.33,667.92h7.4M1104.33,692.73h7.4M1115.74,652.07V690.64M1112.04,652.07h7.4M1112.04,690.64h7.4M1123.46,644.75V680.02M1119.76,644.75h7.4M1119.76,680.02h7.4M1131.17,639.62V662.72M1127.47,639.62h7.4M1127.47,662.72h7.4M1138.89,628.43V651.49M1135.19,628.43h7.4M1135.19,651.49h7.4M1146.61,617.88V642.60M1142.90,617.88h7.4M1142.90,642.60h7.4M1154.32,596.91V644.14M1150.62,596.91h7.4M1150.62,644.14h7.4M1162.03,585.55V631.58M1158.33,585.55h7.4M1158.33,631.58h7.4M1169.75,582.91V610.30M1166.05,582.91h7.4M1166.05,610.30h7.4M1177.46,564.78V614.37M1173.76,564.78h7.4M1173.76,614.37h7.4M1185.18,554.62V610.48M1181.48,554.62h7.4M1181.48,610.48h7.4M1192.89,549.89V596.38M1189.19,549.89h7.4M1189.19,596.38h7.4M1200.61,545.17V582.26M1196.91,545.17h7.4M1196.91,582.26h7.4M1208.33,533.21V577.77M1204.62,533.21h7.4M1204.62,577.77h7.4M1216.04,531.92V562.62M1212.34,531.92h7.4M1212.34,562.62h7.4M1223.76,518.52V545.52M1220.06,518.52h7.4M1220.06,545.52h7.4M1231.47,503.07V564.56M1227.77,503.07h7.4M1227.77,564.56h7.4M1239.18,513.94V564.46M1235.48,513.94h7.4M1235.48,564.46h7.4M1246.90,510.58V557.05M1243.20,510.58h7.4M1243.20,557.05h7.4M1254.62,492.47V554.23M1250.91,492.47h7.4M1250.91,554.23h7.4M1262.33,499.11V542.81M1258.63,499.11h7.4M1258.63,542.81h7.4M1270.05,485.78V545.97M1266.35,485.78h7.4M1266.35,545.97h7.4M1277.76,477.82V536.59M1274.06,477.82h7.4M1274.06,536.59h7.4M1285.47,494.60V530.57M1281.77,494.60h7.4M1281.77,530.57h7.4"/>
<path d="M784.00,775.22 L791.72,775.06 L799.43,773.71 L807.14,774.06 L814.86,773.56 L822.58,772.39 L830.29,772.78 L838.00,773.16 L845.72,772.40 L853.43,771.08 L861.15,772.08 L868.87,770.72 L876.58,770.25 L884.29,769.83 L892.01,768.78 L899.73,769.41 L907.44,769.13 L915.15,767.50 L922.87,766.89 L930.59,765.06 L938.30,764.01 L946.01,762.80 L953.73,762.59 L961.44,761.09 L969.16,760.41 L976.88,757.90 L984.59,754.56 L992.31,752.50 L1000.02,750.37 L1007.74,748.40 L1015.45,745.15 L1023.16,741.10 L1030.88,737.42 L1038.60,733.57 L1046.31,730.40 L1054.03,724.74 L1061.74,720.84 L1069.45,715.59 L1077.17,708.73 L1084.88,702.45 L1092.60,696.17 L1100.32,688.25 L1108.03,680.32 L1115.74,671.36 L1123.46,662.38 L1131.17,651.17 L1138.89,639.96 L1146.61,630.24 L1154.32,620.52 L1162.03,608.56 L1169.75,596.61 L1177.46,589.58 L1185.18,582.55 L1192.89,573.13 L1200.61,563.72 L1208.33,555.49 L1216.04,547.27 L1223.76,532.02 L1231.47,533.81 L1239.18,539.20 L1246.90,533.81 L1254.62,523.35 L1262.33,520.96 L1270.05,515.88 L1277.76,507.20 L1285.47,512.59" stroke-width="2.2"/>
</g>
<g><path d="M784.00,771.32 L787.70,777.92 L780.30,777.92Z" fill="#008000"/><path d="M791.72,771.16 L795.42,777.76 L788.01,777.76Z" fill="#008000"/><path d="M799.43,769.81 L803.13,776.41 L795.73,776.41Z" fill="#008000"/><path d="M807.14,770.16 L810.85,776.76 L803.44,776.76Z" fill="#008000"/><path d="M814.86,769.66 L818.56,776.26 L811.16,776.26Z" fill="#008000"/><path d="M822.58,768.49 L826.28,775.09 L818.88,775.09Z" fill="#008000"/><path d="M830.29,768.88 L833.99,775.48 L826.59,775.48Z" fill="#008000"/><path d="M838.00,769.26 L841.71,775.86 L834.30,775.86Z" fill="#008000"/><path d="M845.72,768.50 L849.42,775.10 L842.02,775.10Z" fill="#008000"/><path d="M853.43,767.18 L857.13,773.78 L849.73,773.78Z" fill="#008000"/><path d="M861.15,768.18 L864.85,774.78 L857.45,774.78Z" fill="#008000"/><path d="M868.87,766.82 L872.57,773.42 L865.16,773.42Z" fill="#008000"/><path d="M876.58,766.35 L880.28,772.95 L872.88,772.95Z" fill="#008000"/><path d="M884.29,765.93 L888.00,772.53 L880.59,772.53Z" fill="#008000"/><path d="M892.01,764.88 L895.71,771.48 L888.31,771.48Z" fill="#008000"/><path d="M899.73,765.51 L903.43,772.11 L896.02,772.11Z" fill="#008000"/><path d="M907.44,765.23 L911.14,771.83 L903.74,771.83Z" fill="#008000"/><path d="M915.15,763.60 L918.86,770.20 L911.45,770.20Z" fill="#008000"/><path d="M922.87,762.99 L926.57,769.59 L919.17,769.59Z" fill="#008000"/><path d="M930.59,761.16 L934.29,767.76 L926.88,767.76Z" fill="#008000"/><path d="M938.30,760.11 L942.00,766.71 L934.60,766.71Z" fill="#008000"/><path d="M946.01,758.90 L949.72,765.50 L942.31,765.50Z" fill="#008000"/><path d="M953.73,758.69 L957.43,765.29 L950.03,765.29Z" fill="#008000"/><path d="M961.44,757.19 L965.14,763.79 L957.74,763.79Z" fill="#008000"/><path d="M969.16,756.51 L972.86,763.11 L965.46,763.11Z" fill="#008000"/><path d="M976.88,754.00 L980.58,760.60 L973.17,760.60Z" fill="#008000"/><path d="M984.59,750.66 L988.29,757.26 L980.89,757.26Z" fill="#008000"/><path d="M992.31,748.60 L996.01,755.20 L988.61,755.20Z" fill="#008000"/><path d="M1000.02,746.47 L1003.72,753.07 L996.32,753.07Z" fill="#008000"/><path d="M1007.74,744.50 L1011.44,751.10 L1004.03,751.10Z" fill="#008000"/><path d="M1015.45,741.25 L1019.15,747.85 L1011.75,747.85Z" fill="#008000"/><path d="M1023.16,737.20 L1026.87,743.80 L1019.46,743.80Z" fill="#008000"/><path d="M1030.88,733.52 L1034.58,740.12 L1027.18,740.12Z" fill="#008000"/><path d="M1038.60,729.67 L1042.30,736.27 L1034.89,736.27Z" fill="#008000"/><path d="M1046.31,726.50 L1050.01,733.10 L1042.61,733.10Z" fill="#008000"/><path d="M1054.03,720.84 L1057.73,727.44 L1050.33,727.44Z" fill="#008000"/><path d="M1061.74,716.94 L1065.44,723.54 L1058.04,723.54Z" fill="#008000"/><path d="M1069.45,711.69 L1073.15,718.29 L1065.75,718.29Z" fill="#008000"/><path d="M1077.17,704.83 L1080.87,711.43 L1073.47,711.43Z" fill="#008000"/><path d="M1084.88,698.55 L1088.59,705.15 L1081.18,705.15Z" fill="#008000"/><path d="M1092.60,692.27 L1096.30,698.87 L1088.90,698.87Z" fill="#008000"/><path d="M1100.32,684.35 L1104.02,690.95 L1096.62,690.95Z" fill="#008000"/><path d="M1108.03,676.42 L1111.73,683.02 L1104.33,683.02Z" fill="#008000"/><path d="M1115.74,667.46 L1119.44,674.06 L1112.04,674.06Z" fill="#008000"/><path d="M1123.46,658.49 L1127.16,665.09 L1119.76,665.09Z" fill="#008000"/><path d="M1131.17,647.27 L1134.88,653.87 L1127.47,653.87Z" fill="#008000"/><path d="M1138.89,636.06 L1142.59,642.66 L1135.19,642.66Z" fill="#008000"/><path d="M1146.61,626.34 L1150.31,632.94 L1142.90,632.94Z" fill="#008000"/><path d="M1154.32,616.62 L1158.02,623.23 L1150.62,623.23Z" fill="#008000"/><path d="M1162.03,604.66 L1165.73,611.26 L1158.33,611.26Z" fill="#008000"/><path d="M1169.75,592.71 L1173.45,599.31 L1166.05,599.31Z" fill="#008000"/><path d="M1177.46,585.68 L1181.16,592.28 L1173.76,592.28Z" fill="#008000"/><path d="M1185.18,578.65 L1188.88,585.25 L1181.48,585.25Z" fill="#008000"/><path d="M1192.89,569.23 L1196.60,575.83 L1189.19,575.83Z" fill="#008000"/><path d="M1200.61,559.82 L1204.31,566.42 L1196.91,566.42Z" fill="#008000"/><path d="M1208.33,551.59 L1212.03,558.19 L1204.62,558.19Z" fill="#008000"/><path d="M1216.04,543.37 L1219.74,549.97 L1212.34,549.97Z" fill="#008000"/><path d="M1223.76,528.12 L1227.46,534.72 L1220.06,534.72Z" fill="#008000"/><path d="M1231.47,529.91 L1235.17,536.51 L1227.77,536.51Z" fill="#008000"/><path d="M1239.18,535.30 L1242.88,541.90 L1235.48,541.90Z" fill="#008000"/><path d="M1246.90,529.91 L1250.60,536.51 L1243.20,536.51Z" fill="#008000"/><path d="M1254.62,519.45 L1258.32,526.05 L1250.91,526.05Z" fill="#008000"/><path d="M1262.33,517.06 L1266.03,523.66 L1258.63,523.66Z" fill="#008000"/><path d="M1270.05,511.98 L1273.75,518.58 L1266.35,518.58Z" fill="#008000"/><path d="M1277.76,503.30 L1281.46,509.90 L1274.06,509.90Z" fill="#008000"/><path d="M1285.47,508.69 L1289.17,515.29 L1281.77,515.29Z" fill="#008000"/></g>
<g stroke="#0000ff" stroke-width="1.1" fill="none">
<path d="M784.00,767.91V775.43M780.30,767.91h7.4M780.30,775.43h7.4M791.72,766.49V776.13M788.01,766.49h7.4M788.01,776.13h7.4M799.43,766.68V775.13M795.73,766.68h7.4M795.73,775.13h7.4M807.14,764.76V776.76M803.44,764.76h7.4M803.44,776.76h7.4M814.86,765.61V774.36M811.16,765.61h7.4M811.16,774.36h7.4M822.58,763.20V775.20M818.88,763.20h7.4M818.88,775.20h7.4M830.29,763.06V775.18M826.59,763.06h7.4M826.59,775.18h7.4M838.00,763.93V773.27M834.30,763.93h7.4M834.30,773.27h7.4M845.72,765.38V771.00M842.02,765.38h7.4M842.02,771.00h7.4M853.43,764.77V771.61M849.73,764.77h7.4M849.73,771.61h7.4M861.15,763.12V774.52M857.45,763.12h7.4M857.45,774.52h7.4M868.87,763.85V772.89M865.16,763.85h7.4M865.16,772.89h7.4M876.58,762.38V772.08M872.88,762.38h7.4M872.88,772.08h7.4M884.29,762.83V772.31M880.59,762.83h7.4M880.59,772.31h7.4M892.01,761.01V772.56M888.31,761.01h7.4M888.31,772.56h7.4M899.73,762.24V772.19M896.02,762.24h7.4M896.02,772.19h7.4M907.44,762.65V770.53M903.74,762.65h7.4M903.74,770.53h7.4M915.15,759.80V769.55M911.45,759.80h7.4M911.45,769.55h7.4M922.87,758.15V770.02M919.17,758.15h7.4M919.17,770.02h7.4M930.59,757.72V767.24M926.88,757.72h7.4M926.88,767.24h7.4M938.30,756.95V767.15M934.60,756.95h7.4M934.60,767.15h7.4M946.01,755.05V767.01M942.31,755.05h7.4M942.31,767.01h7.4M953.73,754.50V765.39M950.03,754.50h7.4M950.03,765.39h7.4M961.44,751.33V766.08M957.74,751.33h7.4M957.74,766.08h7.4M969.16,749.80V764.42M965.46,749.80h7.4M965.46,764.42h7.4M976.88,750.11V759.50M973.17,750.11h7.4M973.17,759.50h7.4M984.59,745.43V761.81M980.89,745.43h7.4M980.89,761.81h7.4M992.31,746.77V755.73M988.61,746.77h7.4M988.61,755.73h7.4M1000.02,744.36V756.99M996.32,744.36h7.4M996.32,756.99h7.4M1007.74,742.31V753.38M1004.03,742.31h7.4M1004.03,753.38h7.4M1015.45,736.53V753.32M1011.75,736.53h7.4M1011.75,753.32h7.4M1023.16,730.37V751.10M1019.46,730.37h7.4M1019.46,751.10h7.4M1030.88,729.09V748.81M1027.18,729.09h7.4M1027.18,748.81h7.4M1038.60,727.56V740.45M1034.89,727.56h7.4M1034.89,740.45h7.4M1046.31,716.23V742.91M1042.61,716.23h7.4M1042.61,742.91h7.4M1054.03,712.44V741.01M1050.33,712.44h7.4M1050.33,741.01h7.4M1061.74,711.14V733.60M1058.04,711.14h7.4M1058.04,733.60h7.4M1069.45,699.76V730.89M1065.75,699.76h7.4M1065.75,730.89h7.4M1077.17,700.50V719.95M1073.47,700.50h7.4M1073.47,719.95h7.4M1084.88,689.99V717.30M1081.18,689.99h7.4M1081.18,717.30h7.4M1092.60,681.23V712.91M1088.90,681.23h7.4M1088.90,712.91h7.4M1100.32,676.36V705.82M1096.62,676.36h7.4M1096.62,705.82h7.4M1108.03,668.34V695.90M1104.33,668.34h7.4M1104.33,695.90h7.4M1115.74,657.62V691.07M1112.04,657.62h7.4M1112.04,691.07h7.4M1123.46,641.02V690.32M1119.76,641.02h7.4M1119.76,690.32h7.4M1131.17,639.99V667.44M1127.47,639.99h7.4M1127.47,667.44h7.4M1138.89,618.58V667.92M1135.19,618.58h7.4M1135.19,667.92h7.4M1146.61,609.91V657.45M1142.90,609.91h7.4M1142.90,657.45h7.4M1154.32,610.40V642.61M1150.62,610.40h7.4M1150.62,642.61h7.4M1162.03,587.24V634.67M1158.33,587.24h7.4M1158.33,634.67h7.4M1169.75,570.63V633.34M1166.05,570.63h7.4M1166.05,633.34h7.4M1177.46,565.25V624.97M1173.76,565.25h7.4M1173.76,624.97h7.4M1185.18,569.55V609.31M1181.48,569.55h7.4M1181.48,609.31h7.4M1192.89,536.91V624.01M1189.19,536.91h7.4M1189.19,624.01h7.4M1200.61,526.84V605.97M1196.91,526.84h7.4M1196.91,605.97h7.4M1208.33,520.57V611.04M1204.62,520.57h7.4M1204.62,611.04h7.4M1216.04,532.47V578.22M1212.34,532.47h7.4M1212.34,578.22h7.4M1223.76,516.66V571.90M1220.06,516.66h7.4M1220.06,571.90h7.4M1231.47,520.71V564.26M1227.77,520.71h7.4M1227.77,564.26h7.4M1239.18,495.93V581.26M1235.48,495.93h7.4M1235.48,581.26h7.4M1246.90,507.14V564.67M1243.20,507.14h7.4M1243.20,564.67h7.4M1254.62,498.64V548.66M1250.91,498.64h7.4M1250.91,548.66h7.4M1262.33,488.27V555.44M1258.63,488.27h7.4M1258.63,555.44h7.4M1270.05,469.46V565.28M1266.35,469.46h7.4M1266.35,565.28h7.4M1277.76,457.23V548.21M1274.06,457.23h7.4M1274.06,548.21h7.4M1285.47,473.34V532.10M1281.77,473.34h7.4M1281.77,532.10h7.4"/>
<path d="M784.00,771.67 L791.72,771.31 L799.43,770.91 L807.14,770.76 L814.86,769.99 L822.58,769.20 L830.29,769.12 L838.00,768.60 L845.72,768.19 L853.43,768.19 L861.15,768.82 L868.87,768.37 L876.58,767.23 L884.29,767.57 L892.01,766.79 L899.73,767.22 L907.44,766.59 L915.15,764.68 L922.87,764.08 L930.59,762.48 L938.30,762.05 L946.01,761.03 L953.73,759.94 L961.44,758.70 L969.16,757.11 L976.88,754.80 L984.59,753.62 L992.31,751.25 L1000.02,750.67 L1007.74,747.84 L1015.45,744.93 L1023.16,740.74 L1030.88,738.95 L1038.60,734.01 L1046.31,729.57 L1054.03,726.72 L1061.74,722.37 L1069.45,715.33 L1077.17,710.23 L1084.88,703.65 L1092.60,697.07 L1100.32,691.09 L1108.03,682.12 L1115.74,674.35 L1123.46,665.67 L1131.17,653.71 L1138.89,643.25 L1146.61,633.68 L1154.32,626.50 L1162.03,610.96 L1169.75,601.99 L1177.46,595.11 L1185.18,589.43 L1192.89,580.46 L1200.61,566.41 L1208.33,565.81 L1216.04,555.34 L1223.76,544.28 L1231.47,542.49 L1239.18,538.60 L1246.90,535.91 L1254.62,523.65 L1262.33,521.86 L1270.05,517.37 L1277.76,502.72 L1285.47,502.72" stroke-width="2.2"/>
</g>
<g><rect x="780.80" y="768.47" width="6.4" height="6.4" fill="#0000ff"/><rect x="788.51" y="768.11" width="6.4" height="6.4" fill="#0000ff"/><rect x="796.23" y="767.71" width="6.4" height="6.4" fill="#0000ff"/><rect x="803.94" y="767.56" width="6.4" height="6.4" fill="#0000ff"/><rect x="811.66" y="766.79" width="6.4" height="6.4" fill="#0000ff"/><rect x="819.38" y="766.00" width="6.4" height="6.4" fill="#0000ff"/><rect x="827.09" y="765.92" width="6.4" height="6.4" fill="#0000ff"/><rect x="834.80" y="765.40" width="6.4" height="6.4" fill="#0000ff"/><rect x="842.52" y="764.99" width="6.4" height="6.4" fill="#0000ff"/><rect x="850.23" y="764.99" width="6.4" height="6.4" fill="#0000ff"/><rect x="857.95" y="765.62" width="6.4" height="6.4" fill="#0000ff"/><rect x="865.66" y="765.17" width="6.4" height="6.4" fill="#0000ff"/><rect x="873.38" y="764.03" width="6.4" height="6.4" fill="#0000ff"/><rect x="881.09" y="764.37" width="6.4" height="6.4" fill="#0000ff"/><rect x="888.81" y="763.59" width="6.4" height="6.4" fill="#0000ff"/><rect x="896.52" y="764.02" width="6.4" height="6.4" fill="#0000ff"/><rect x="904.24" y="763.39" width="6.4" height="6.4" fill="#0000ff"/><rect x="911.95" y="761.48" width="6.4" height="6.4" fill="#0000ff"/><rect x="919.67" y="760.88" width="6.4" height="6.4" fill="#0000ff"/><rect x="927.38" y="759.28" width="6.4" height="6.4" fill="#0000ff"/><rect x="935.10" y="758.85" width="6.4" height="6.4" fill="#0000ff"/><rect x="942.81" y="757.83" width="6.4" height="6.4" fill="#0000ff"/><rect x="950.53" y="756.74" width="6.4" height="6.4" fill="#0000ff"/><rect x="958.24" y="755.50" width="6.4" height="6.4" fill="#0000ff"/><rect x="965.96" y="753.91" width="6.4" height="6.4" fill="#0000ff"/><rect x="973.67" y="751.60" width="6.4" height="6.4" fill="#0000ff"/><rect x="981.39" y="750.42" width="6.4" height="6.4" fill="#0000ff"/><rect x="989.11" y="748.05" width="6.4" height="6.4" fill="#0000ff"/><rect x="996.82" y="747.47" width="6.4" height="6.4" fill="#0000ff"/><rect x="1004.53" y="744.64" width="6.4" height="6.4" fill="#0000ff"/><rect x="1012.25" y="741.73" width="6.4" height="6.4" fill="#0000ff"/><rect x="1019.96" y="737.54" width="6.4" height="6.4" fill="#0000ff"/><rect x="1027.68" y="735.75" width="6.4" height="6.4" fill="#0000ff"/><rect x="1035.39" y="730.81" width="6.4" height="6.4" fill="#0000ff"/><rect x="1043.11" y="726.37" width="6.4" height="6.4" fill="#0000ff"/><rect x="1050.83" y="723.52" width="6.4" height="6.4" fill="#0000ff"/><rect x="1058.54" y="719.17" width="6.4" height="6.4" fill="#0000ff"/><rect x="1066.25" y="712.13" width="6.4" height="6.4" fill="#0000ff"/><rect x="1073.97" y="707.02" width="6.4" height="6.4" fill="#0000ff"/><rect x="1081.68" y="700.45" width="6.4" height="6.4" fill="#0000ff"/><rect x="1089.40" y="693.87" width="6.4" height="6.4" fill="#0000ff"/><rect x="1097.12" y="687.89" width="6.4" height="6.4" fill="#0000ff"/><rect x="1104.83" y="678.92" width="6.4" height="6.4" fill="#0000ff"/><rect x="1112.54" y="671.14" width="6.4" height="6.4" fill="#0000ff"/><rect x="1120.26" y="662.47" width="6.4" height="6.4" fill="#0000ff"/><rect x="1127.97" y="650.51" width="6.4" height="6.4" fill="#0000ff"/><rect x="1135.69" y="640.05" width="6.4" height="6.4" fill="#0000ff"/><rect x="1143.40" y="630.48" width="6.4" height="6.4" fill="#0000ff"/><rect x="1151.12" y="623.30" width="6.4" height="6.4" fill="#0000ff"/><rect x="1158.83" y="607.76" width="6.4" height="6.4" fill="#0000ff"/><rect x="1166.55" y="598.79" width="6.4" height="6.4" fill="#0000ff"/><rect x="1174.26" y="591.91" width="6.4" height="6.4" fill="#0000ff"/><rect x="1181.98" y="586.23" width="6.4" height="6.4" fill="#0000ff"/><rect x="1189.69" y="577.26" width="6.4" height="6.4" fill="#0000ff"/><rect x="1197.41" y="563.21" width="6.4" height="6.4" fill="#0000ff"/><rect x="1205.12" y="562.61" width="6.4" height="6.4" fill="#0000ff"/><rect x="1212.84" y="552.14" width="6.4" height="6.4" fill="#0000ff"/><rect x="1220.56" y="541.08" width="6.4" height="6.4" fill="#0000ff"/><rect x="1228.27" y="539.29" width="6.4" height="6.4" fill="#0000ff"/><rect x="1235.98" y="535.40" width="6.4" height="6.4" fill="#0000ff"/><rect x="1243.70" y="532.71" width="6.4" height="6.4" fill="#0000ff"/><rect x="1251.41" y="520.45" width="6.4" height="6.4" fill="#0000ff"/><rect x="1259.13" y="518.65" width="6.4" height="6.4" fill="#0000ff"/><rect x="1266.85" y="514.17" width="6.4" height="6.4" fill="#0000ff"/><rect x="1274.56" y="499.52" width="6.4" height="6.4" fill="#0000ff"/><rect x="1282.27" y="499.52" width="6.4" height="6.4" fill="#0000ff"/></g>
<g stroke="#ff0000" stroke-width="1.1" fill="none">
<path d="M784.00,772.62V780.65M780.30,772.62h7.4M780.30,780.65h7.4M791.72,772.24V779.22M788.01,772.24h7.4M788.01,779.22h7.4M807.14,772.38V778.06M803.44,772.38h7.4M803.44,778.06h7.4M814.86,772.09V780.26M811.16,772.09h7.4M811.16,780.26h7.4M822.58,771.25V778.78M818.88,771.25h7.4M818.88,778.78h7.4M830.29,771.95V779.76M826.59,771.95h7.4M826.59,779.76h7.4M838.00,771.81V779.67M834.30,771.81h7.4M834.30,779.67h7.4M845.72,772.23V777.56M842.02,772.23h7.4M842.02,777.56h7.4M853.43,770.22V778.46M849.73,770.22h7.4M849.73,778.46h7.4M892.01,769.93V775.28M888.31,769.93h7.4M888.31,775.28h7.4M899.73,768.61V773.94M896.02,768.61h7.4M896.02,773.94h7.4M930.59,765.02V772.10M926.88,765.02h7.4M926.88,772.10h7.4M938.30,765.38V772.19M934.60,765.38h7.4M934.60,772.19h7.4M953.73,761.51V768.43M950.03,761.51h7.4M950.03,768.43h7.4M961.44,759.41V768.99M957.74,759.41h7.4M957.74,768.99h7.4M969.16,759.10V766.98M965.46,759.10h7.4M965.46,766.98h7.4M976.88,754.17V765.47M973.17,754.17h7.4M973.17,765.47h7.4M984.59,752.35V763.15M980.89,752.35h7.4M980.89,763.15h7.4M992.31,749.43V759.38M988.61,749.43h7.4M988.61,759.38h7.4M1000.02,748.10V756.42M996.32,748.10h7.4M996.32,756.42h7.4M1007.74,746.20V753.29M1004.03,746.20h7.4M1004.03,753.29h7.4M1015.45,740.17V752.98M1011.75,740.17h7.4M1011.75,752.98h7.4M1023.16,738.45V746.86M1019.46,738.45h7.4M1019.46,746.86h7.4M1030.88,731.49V747.27M1027.18,731.49h7.4M1027.18,747.27h7.4M1038.60,725.87V741.09M1034.89,725.87h7.4M1034.89,741.09h7.4M1046.31,724.28V735.82M1042.61,724.28h7.4M1042.61,735.82h7.4M1054.03,717.60V732.89M1050.33,717.60h7.4M1050.33,732.89h7.4M1061.74,712.48V728.94M1058.04,712.48h7.4M1058.04,728.94h7.4M1069.45,701.54V727.23M1065.75,701.54h7.4M1065.75,727.23h7.4M1077.17,693.74V721.93M1073.47,693.74h7.4M1073.47,721.93h7.4M1084.88,687.30V710.42M1081.18,687.30h7.4M1081.18,710.42h7.4M1092.60,681.45V700.73M1088.90,681.45h7.4M1088.90,700.73h7.4M1100.32,664.37V700.47M1096.62,664.37h7.4M1096.62,700.47h7.4M1108.03,659.00V683.11M1104.33,659.00h7.4M1104.33,683.11h7.4M1115.74,647.02V674.16M1112.04,647.02h7.4M1112.04,674.16h7.4M1123.46,642.04V661.80M1119.76,642.04h7.4M1119.76,661.80h7.4M1131.17,622.56V654.37M1127.47,622.56h7.4M1127.47,654.37h7.4M1138.89,608.52V645.09M1135.19,608.52h7.4M1135.19,645.09h7.4M1146.61,595.66V635.23M1142.90,595.66h7.4M1142.90,635.23h7.4M1154.32,589.17V620.78M1150.62,589.17h7.4M1150.62,620.78h7.4M1162.03,574.18V617.84M1158.33,574.18h7.4M1158.33,617.84h7.4M1169.75,569.46V596.84M1166.05,569.46h7.4M1166.05,596.84h7.4M1177.46,556.30V594.45M1173.76,556.30h7.4M1173.76,594.45h7.4M1185.18,552.78V585.41M1181.48,552.78h7.4M1181.48,585.41h7.4M1192.89,539.24V585.20M1189.19,539.24h7.4M1189.19,585.20h7.4M1200.61,536.42V568.88M1196.91,536.42h7.4M1196.91,568.88h7.4M1208.33,530.49V562.86M1204.62,530.49h7.4M1204.62,562.86h7.4M1216.04,519.97V565.00M1212.34,519.97h7.4M1212.34,565.00h7.4M1223.76,508.89V551.56M1220.06,508.89h7.4M1220.06,551.56h7.4M1231.47,498.13V556.94M1227.77,498.13h7.4M1227.77,556.94h7.4M1239.18,496.04V553.06M1235.48,496.04h7.4M1235.48,553.06h7.4M1246.90,483.58V551.16M1243.20,483.58h7.4M1243.20,551.16h7.4M1254.62,477.01V540.98M1250.91,477.01h7.4M1250.91,540.98h7.4M1262.33,470.94V538.08M1258.63,470.94h7.4M1258.63,538.08h7.4M1270.05,464.57V539.67M1266.35,464.57h7.4M1266.35,539.67h7.4M1277.76,460.76V513.58M1274.06,460.76h7.4M1274.06,513.58h7.4M1285.47,465.70V515.82M1281.77,465.70h7.4M1281.77,515.82h7.4"/>
<path d="M784.00,776.63 L791.72,775.73 L799.43,776.44 L807.14,775.22 L814.86,776.17 L822.58,775.02 L830.29,775.85 L838.00,775.74 L845.72,774.89 L853.43,774.34 L861.15,774.48 L868.87,773.64 L876.58,774.01 L884.29,773.60 L892.01,772.60 L899.73,771.28 L907.44,771.22 L915.15,770.75 L922.87,770.17 L930.59,768.56 L938.30,768.79 L946.01,766.11 L953.73,764.97 L961.44,764.20 L969.16,763.04 L976.88,759.82 L984.59,757.75 L992.31,754.41 L1000.02,752.26 L1007.74,749.74 L1015.45,746.58 L1023.16,742.66 L1030.88,739.38 L1038.60,733.48 L1046.31,730.05 L1054.03,725.25 L1061.74,720.71 L1069.45,714.39 L1077.17,707.83 L1084.88,698.86 L1092.60,691.09 L1100.32,682.42 L1108.03,671.06 L1115.74,660.59 L1123.46,651.92 L1131.17,638.47 L1138.89,626.80 L1146.61,615.44 L1154.32,604.98 L1162.03,596.01 L1169.75,583.15 L1177.46,575.38 L1185.18,569.10 L1192.89,562.22 L1200.61,552.65 L1208.33,546.67 L1216.04,542.49 L1223.76,530.23 L1231.47,527.54 L1239.18,524.55 L1246.90,517.37 L1254.62,509.00 L1262.33,504.51 L1270.05,502.12 L1277.76,487.17 L1285.47,490.76" stroke-width="2.2"/>
</g>
<g><circle cx="784.00" cy="776.63" r="3.55" fill="#ff0000"/><circle cx="791.72" cy="775.73" r="3.55" fill="#ff0000"/><circle cx="799.43" cy="776.44" r="3.55" fill="#ff0000"/><circle cx="807.14" cy="775.22" r="3.55" fill="#ff0000"/><circle cx="814.86" cy="776.17" r="3.55" fill="#ff0000"/><circle cx="822.58" cy="775.02" r="3.55" fill="#ff0000"/><circle cx="830.29" cy="775.85" r="3.55" fill="#ff0000"/><circle cx="838.00" cy="775.74" r="3.55" fill="#ff0000"/><circle cx="845.72" cy="774.89" r="3.55" fill="#ff0000"/><circle cx="853.43" cy="774.34" r="3.55" fill="#ff0000"/><circle cx="861.15" cy="774.48" r="3.55" fill="#ff0000"/><circle cx="868.87" cy="773.64" r="3.55" fill="#ff0000"/><circle cx="876.58" cy="774.01" r="3.55" fill="#ff0000"/><circle cx="884.29" cy="773.60" r="3.55" fill="#ff0000"/><circle cx="892.01" cy="772.60" r="3.55" fill="#ff0000"/><circle cx="899.73" cy="771.28" r="3.55" fill="#ff0000"/><circle cx="907.44" cy="771.22" r="3.55" fill="#ff0000"/><circle cx="915.15" cy="770.75" r="3.55" fill="#ff0000"/><circle cx="922.87" cy="770.17" r="3.55" fill="#ff0000"/><circle cx="930.59" cy="768.56" r="3.55" fill="#ff0000"/><circle cx="938.30" cy="768.79" r="3.55" fill="#ff0000"/><circle cx="946.01" cy="766.11" r="3.55" fill="#ff0000"/><circle cx="953.73" cy="764.97" r="3.55" fill="#ff0000"/><circle cx="961.44" cy="764.20" r="3.55" fill="#ff0000"/><circle cx="969.16" cy="763.04" r="3.55" fill="#ff0000"/><circle cx="976.88" cy="759.82" r="3.55" fill="#ff0000"/><circle cx="984.59" cy="757.75" r="3.55" fill="#ff0000"/><circle cx="992.31" cy="754.41" r="3.55" fill="#ff0000"/><circle cx="1000.02" cy="752.26" r="3.55" fill="#ff0000"/><circle cx="1007.74" cy="749.74" r="3.55" fill="#ff0000"/><circle cx="1015.45" cy="746.58" r="3.55" fill="#ff0000"/><circle cx="1023.16" cy="742.66" r="3.55" fill="#ff0000"/><circle cx="1030.88" cy="739.38" r="3.55" fill="#ff0000"/><circle cx="1038.60" cy="733.48" r="3.55" fill="#ff0000"/><circle cx="1046.31" cy="730.05" r="3.55" fill="#ff0000"/><circle cx="1054.03" cy="725.25" r="3.55" fill="#ff0000"/><circle cx="1061.74" cy="720.71" r="3.55" fill="#ff0000"/><circle cx="1069.45" cy="714.39" r="3.55" fill="#ff0000"/><circle cx="1077.17" cy="707.83" r="3.55" fill="#ff0000"/><circle cx="1084.88" cy="698.86" r="3.55" fill="#ff0000"/><circle cx="1092.60" cy="691.09" r="3.55" fill="#ff0000"/><circle cx="1100.32" cy="682.42" r="3.55" fill="#ff0000"/><circle cx="1108.03" cy="671.06" r="3.55" fill="#ff0000"/><circle cx="1115.74" cy="660.59" r="3.55" fill="#ff0000"/><circle cx="1123.46" cy="651.92" r="3.55" fill="#ff0000"/><circle cx="1131.17" cy="638.47" r="3.55" fill="#ff0000"/><circle cx="1138.89" cy="626.80" r="3.55" fill="#ff0000"/><circle cx="1146.61" cy="615.44" r="3.55" fill="#ff0000"/><circle cx="1154.32" cy="604.98" r="3.55" fill="#ff0000"/><circle cx="1162.03" cy="596.01" r="3.55" fill="#ff0000"/><circle cx="1169.75" cy="583.15" r="3.55" fill="#ff0000"/><circle cx="1177.46" cy="575.38" r="3.55" fill="#ff0000"/><circle cx="1185.18" cy="569.10" r="3.55" fill="#ff0000"/><circle cx="1192.89" cy="562.22" r="3.55" fill="#ff0000"/><circle cx="1200.61" cy="552.65" r="3.55" fill="#ff0000"/><circle cx="1208.33" cy="546.67" r="3.55" fill="#ff0000"/><circle cx="1216.04" cy="542.49" r="3.55" fill="#ff0000"/><circle cx="1223.76" cy="530.23" r="3.55" fill="#ff0000"/><circle cx="1231.47" cy="527.54" r="3.55" fill="#ff0000"/><circle cx="1239.18" cy="524.55" r="3.55" fill="#ff0000"/><circle cx="1246.90" cy="517.37" r="3.55" fill="#ff0000"/><circle cx="1254.62" cy="509.00" r="3.55" fill="#ff0000"/><circle cx="1262.33" cy="504.51" r="3.55" fill="#ff0000"/><circle cx="1270.05" cy="502.12" r="3.55" fill="#ff0000"/><circle cx="1277.76" cy="487.17" r="3.55" fill="#ff0000"/><circle cx="1285.47" cy="490.76" r="3.55" fill="#ff0000"/></g>
<line x1="1304" y1="616.6" x2="1326.4" y2="616.6" stroke="#ff0000" stroke-width="2.7"/>
<circle cx="1315.20" cy="616.60" r="3.55" fill="#ff0000"/>
<text class="lab" x="1334" y="623.4" letter-spacing="1.6"><tspan>WT+pEV</tspan></text>
<line x1="1304" y1="652.6" x2="1326.4" y2="652.6" stroke="#0000ff" stroke-width="2.7"/>
<rect x="1312.00" y="649.40" width="6.4" height="6.4" fill="#0000ff"/>
<text class="lab" x="1334" y="659.4" letter-spacing="1.6"><tspan>Δ</tspan><tspan font-style="italic">rof</tspan><tspan>+pEV</tspan></text>
<line x1="1304" y1="688.5" x2="1326.4" y2="688.5" stroke="#008000" stroke-width="2.7"/>
<path d="M1315.20,684.60 L1318.90,691.20 L1311.50,691.20Z" fill="#008000"/>
<text class="lab" x="1334" y="695.3" letter-spacing="1.6"><tspan>Δ</tspan><tspan font-style="italic">rof</tspan><tspan>+pRof</tspan></text>
<line x1="1304" y1="725.2" x2="1326.4" y2="725.2" stroke="#000" stroke-width="2.7"/>
<path d="M1315.20,729.10 L1318.90,722.50 L1311.50,722.50Z" fill="#000"/>
<text class="lab" x="1334" y="732.0" letter-spacing="1.6"><tspan>Δ</tspan><tspan font-style="italic">rof</tspan><tspan>+pL-Rof</tspan></text>
<defs>
<clipPath id="dc"><path d="M818.4,570.7 A123.9,122.4 0 0 1 1066.2,570.7 Z"/></clipPath>
<radialGradient id="dg" cx="952.3" cy="550.7" r="123.9" gradientUnits="userSpaceOnUse"><stop offset="0" stop-color="#dcdcdc"/><stop offset="0.6" stop-color="#d0d0d0"/><stop offset="0.88" stop-color="#c0c0c0"/><stop offset="0.96" stop-color="#9c9c9c"/><stop offset="1" stop-color="#6c6c6c"/></radialGradient>
<filter id="bl" x="-5%" y="-5%" width="110%" height="110%"><feGaussianBlur stdDeviation="0.8"/></filter>
</defs>
<g clip-path="url(#dc)">
<rect x="816.4" y="446.3" width="251.8" height="126.4" fill="url(#dg)"/>
<path d="M818.4,570.7 A123.9,122.4 0 0 1 882.3,464.3" fill="none" stroke="#7a7a7a" stroke-width="14" opacity="0.45"/>
<g fill="none" stroke-linecap="round" filter="url(#bl)"><polyline points="830.4,560.2 833.5,551.2 834.5,542.3 836.5,533.3 838.3,524.4 840.6,515.4 841.7,506.5" stroke="#727272" stroke-width="4.0" opacity="0.8"/><polyline points="835.6,562.6 837.1,552.4 839.4,542.2 840.6,532.0 843.4,521.8 845.9,511.6 847.3,501.4" stroke="#727272" stroke-width="4.2" opacity="0.8"/><polyline points="839.1,559.3 842.4,548.8 844.5,538.2 845.8,527.7 848.4,517.2 851.0,506.6 852.3,496.1" stroke="#727272" stroke-width="4.3" opacity="0.8"/><polyline points="844.1,562.6 847.3,550.9 849.5,539.1 850.6,527.3 853.0,515.5 855.5,503.8 859.1,492.0" stroke="#727272" stroke-width="3.8" opacity="0.8"/><polyline points="849.0,560.5 851.0,550.1 852.9,539.6 854.7,529.1 857.0,518.7 860.0,508.2 860.7,497.8" stroke="#868686" stroke-width="3.6" opacity="0.8"/><polyline points="854.3,562.5 856.2,552.6 857.6,542.8 859.8,532.9 861.0,523.1 863.9,513.2 865.5,503.3" stroke="#868686" stroke-width="3.6" opacity="0.8"/><polyline points="857.2,563.3 858.5,554.2 861.7,545.1 862.1,536.0 864.6,526.9 866.4,517.9 867.7,508.8" stroke="#7c7c7c" stroke-width="4.0" opacity="0.8"/><polyline points="862.9,560.9 864.7,552.6 865.6,544.3 868.1,535.9 868.6,527.6 869.9,519.3 872.4,511.0" stroke="#909090" stroke-width="3.2" opacity="0.8"/><polyline points="866.7,561.0 868.7,553.4 869.2,545.7 870.7,538.0 871.9,530.4 874.6,522.7 875.4,515.0" stroke="#7c7c7c" stroke-width="4.4" opacity="0.8"/><polyline points="870.9,563.3 872.9,556.0 873.6,548.7 875.0,541.4 876.9,534.1 877.6,526.9 879.1,519.6" stroke="#949494" stroke-width="4.6" opacity="0.8"/><polyline points="876.0,561.7 876.3,554.8 877.8,547.8 879.6,540.8 880.2,533.8 882.4,526.8 883.3,519.8" stroke="#9e9e9e" stroke-width="3.7" opacity="0.8"/><polyline points="879.6,562.0 880.8,556.1 883.0,550.1 884.6,544.2 884.7,538.2 886.2,532.2 887.6,526.3" stroke="#9e9e9e" stroke-width="3.6" opacity="0.8"/><polyline points="884.2,560.6 886.1,555.6 886.0,550.7 888.1,545.7 889.3,540.8 889.9,535.9 890.0,530.9" stroke="#a8a8a8" stroke-width="3.9" opacity="0.8"/><polyline points="889.2,560.3 890.5,556.1 890.4,551.9 891.6,547.7 892.4,543.5 894.1,539.3 894.3,535.1" stroke="#a8a8a8" stroke-width="4.4" opacity="0.8"/><polyline points="893.3,560.7 893.6,557.4 894.1,554.1 895.4,550.8 895.5,547.5 897.2,544.2 897.9,540.9" stroke="#a8a8a8" stroke-width="3.5" opacity="0.8"/><polyline points="897.3,563.0 897.6,560.0 898.4,557.0 899.9,553.9 899.6,550.9 900.4,547.9 901.1,544.8" stroke="#a8a8a8" stroke-width="3.8" opacity="0.8"/><polyline points="901.9,563.6 903.1,560.7 903.3,557.8 903.7,554.8 904.4,551.9 905.6,549.0 905.8,546.1" stroke="#949494" stroke-width="3.2" opacity="0.8"/><path d="M902,560 q4,-5 8,0 t8,0 t8,-1.5 t7,-0.5" stroke="#9a9a9a" stroke-width="4" fill="none" opacity="0.85"/><path d="M868.5,482.5 Q903.9,467.7 939.3,457.0" stroke="#9a9a9a" stroke-width="4.0" fill="none" opacity="0.8"/><path d="M873.6,486.1 Q906.5,472.3 939.5,462.4" stroke="#9a9a9a" stroke-width="3.4" fill="none" opacity="0.8"/><path d="M873.1,491.0 Q905.2,477.4 937.3,467.9" stroke="#909090" stroke-width="4.5" fill="none" opacity="0.8"/><path d="M880.7,494.3 Q909.9,481.8 939.1,473.3" stroke="#858585" stroke-width="3.9" fill="none" opacity="0.8"/><path d="M884.7,497.4 Q910.6,486.0 936.5,478.7" stroke="#909090" stroke-width="4.1" fill="none" opacity="0.8"/><path d="M888.6,501.7 Q913.1,490.9 937.5,484.1" stroke="#858585" stroke-width="3.7" fill="none" opacity="0.8"/><path d="M895.7,504.2 Q916.1,494.9 936.5,489.6" stroke="#a4a4a4" stroke-width="4.3" fill="none" opacity="0.8"/><path d="M896.3,509.2 Q916.0,500.1 935.7,495.0" stroke="#858585" stroke-width="3.9" fill="none" opacity="0.8"/><path d="M900.5,513.8 Q919.1,505.1 937.7,500.4" stroke="#9a9a9a" stroke-width="4.5" fill="none" opacity="0.8"/><path d="M908.8,516.2 Q923.1,509.0 937.5,505.9" stroke="#858585" stroke-width="3.9" fill="none" opacity="0.8"/><path d="M910.7,520.6 Q923.6,513.9 936.6,511.3" stroke="#9a9a9a" stroke-width="3.5" fill="none" opacity="0.8"/><path d="M915.8,524.2 Q926.2,518.4 936.5,516.7" stroke="#858585" stroke-width="3.9" fill="none" opacity="0.8"/><path d="M917.2,529.2 Q927.0,523.7 936.8,522.1" stroke="#858585" stroke-width="4.3" fill="none" opacity="0.8"/><path d="M921.9,532.1 Q928.1,527.8 934.4,527.6" stroke="#a4a4a4" stroke-width="4.6" fill="none" opacity="0.8"/><path d="M926.5,536.6 Q931.5,532.8 936.6,533.0" stroke="#a4a4a4" stroke-width="3.6" fill="none" opacity="0.8"/><path d="M936,528 L939,547" stroke="#9a9a9a" stroke-width="4.5" opacity="0.85"/><path d="M866,482 Q900,462 936,456" stroke="#888" stroke-width="6" fill="none" opacity="0.55"/><path d="M957.9,461.0 Q986.0,459.5 1014.1,463.5" stroke="#a8a8a8" stroke-width="3.7" fill="none" opacity="0.8"/><path d="M958.2,465.6 Q984.2,464.1 1010.3,468.1" stroke="#9e9e9e" stroke-width="3.5" fill="none" opacity="0.8"/><path d="M957.5,470.1 Q981.9,468.6 1006.3,472.6" stroke="#a8a8a8" stroke-width="4.0" fill="none" opacity="0.8"/><path d="M958.9,474.7 Q981.3,473.2 1003.7,477.2" stroke="#a8a8a8" stroke-width="3.7" fill="none" opacity="0.8"/><path d="M959.6,479.3 Q981.2,477.8 1002.9,481.8" stroke="#8a8a8a" stroke-width="3.7" fill="none" opacity="0.8"/><path d="M958.7,483.9 Q979.3,482.4 999.9,486.4" stroke="#a8a8a8" stroke-width="3.9" fill="none" opacity="0.8"/><path d="M958.4,488.4 Q979.5,486.9 1000.6,490.9" stroke="#a8a8a8" stroke-width="3.6" fill="none" opacity="0.8"/><path d="M958.2,493.0 Q976.7,491.5 995.2,495.5" stroke="#8a8a8a" stroke-width="4.0" fill="none" opacity="0.8"/><path d="M958.2,497.6 Q974.1,496.1 989.9,500.1" stroke="#8a8a8a" stroke-width="4.1" fill="none" opacity="0.8"/><path d="M958.8,502.1 Q975.2,500.6 991.7,504.6" stroke="#9e9e9e" stroke-width="3.1" fill="none" opacity="0.8"/><path d="M959.8,506.7 Q974.4,505.2 989.1,509.2" stroke="#a8a8a8" stroke-width="3.8" fill="none" opacity="0.8"/><path d="M960.0,511.3 Q972.0,509.8 984.0,513.8" stroke="#8a8a8a" stroke-width="4.0" fill="none" opacity="0.8"/><path d="M960.0,515.9 Q970.3,514.4 980.6,518.4" stroke="#949494" stroke-width="3.9" fill="none" opacity="0.8"/><path d="M958.1,520.4 Q966.7,518.9 975.4,522.9" stroke="#8a8a8a" stroke-width="3.8" fill="none" opacity="0.8"/><path d="M959.1,525.0 Q968.0,523.5 976.9,527.5" stroke="#9e9e9e" stroke-width="4.0" fill="none" opacity="0.8"/><path d="M962,526 L955,550" stroke="#a0a0a0" stroke-width="4.2" opacity="0.85"/><path d="M985.0,560.0 l-14.0,-12.0" stroke="#c4c4c4" stroke-width="0.8" opacity="0.6"/><path d="M993.0,560.0 l-14.0,-12.0" stroke="#c4c4c4" stroke-width="0.8" opacity="0.6"/><path d="M1001.0,560.0 l-14.0,-12.0" stroke="#c4c4c4" stroke-width="0.8" opacity="0.6"/><path d="M1009.0,560.0 l-14.0,-12.0" stroke="#c4c4c4" stroke-width="0.8" opacity="0.6"/><path d="M1017.0,560.0 l-14.0,-12.0" stroke="#c4c4c4" stroke-width="0.8" opacity="0.6"/><path d="M1025.0,560.0 l-14.0,-12.0" stroke="#c4c4c4" stroke-width="0.8" opacity="0.6"/><path d="M1033.0,560.0 l-14.0,-12.0" stroke="#c4c4c4" stroke-width="0.8" opacity="0.6"/><path d="M1041.0,560.0 l-14.0,-12.0" stroke="#c4c4c4" stroke-width="0.8" opacity="0.6"/><path d="M1049.0,560.0 l-14.0,-12.0" stroke="#c4c4c4" stroke-width="0.8" opacity="0.6"/><path d="M1057.0,560.0 l-14.0,-12.0" stroke="#c4c4c4" stroke-width="0.8" opacity="0.6"/></g>
<path d="M825.4,569.7 A116.9,115.4 0 0 1 1059.2,569.7" fill="none" stroke="#e4e4e4" stroke-width="1.2" opacity="0.4"/>
</g>
<g stroke="#000" stroke-width="2.2" fill="none"><line x1="948.5" y1="570.7" x2="858" y2="482.4"/><line x1="948.5" y1="570.7" x2="951.9" y2="449"/><line x1="948.5" y1="570.7" x2="1029.6" y2="487.3"/></g>
<path d="M818.4,570.7 A123.9,122.4 0 0 1 1066.2,570.7 Z" fill="none" stroke="#000" stroke-width="2.9" stroke-linejoin="miter"/>
<line x1="796.7" y1="530.3" x2="818.3" y2="530.3" stroke="#ff0000" stroke-width="2.7"/><circle cx="807.50" cy="530.30" r="3.55" fill="#ff0000"/>
<line x1="877.7" y1="445.4" x2="899.6" y2="445.4" stroke="#0000ff" stroke-width="2.7"/><rect x="885.40" y="442.20" width="6.4" height="6.4" fill="#0000ff"/>
<line x1="993" y1="445.4" x2="1014.5" y2="445.4" stroke="#008000" stroke-width="2.7"/><path d="M1003.70,441.50 L1007.40,448.10 L1000.00,448.10Z" fill="#008000"/>
<line x1="1068" y1="530.3" x2="1089.5" y2="530.3" stroke="#000" stroke-width="2.7"/><path d="M1078.70,534.20 L1082.40,527.60 L1075.00,527.60Z" fill="#000"/>
</svg></body></html>
